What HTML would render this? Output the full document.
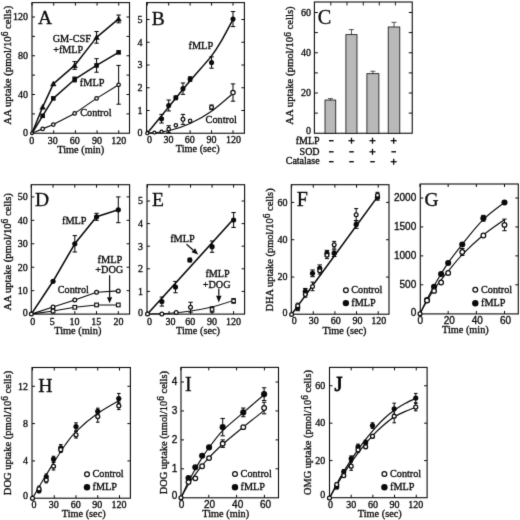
<!DOCTYPE html>
<html><head><meta charset="utf-8"><title>Figure</title>
<style>
html,body{margin:0;padding:0;background:#fff;}
body{width:520px;height:520px;overflow:hidden;font-family:"Liberation Serif",serif;}
svg{display:block;}
text{fill:#0a0a0a;stroke:#0a0a0a;stroke-width:0.32px;}
</style></head><body>
<svg width="520" height="520" viewBox="0 0 520 520">
<defs><filter id="soft" x="0" y="0" width="520" height="520" filterUnits="userSpaceOnUse" color-interpolation-filters="sRGB"><feConvolveMatrix order="3" kernelMatrix="0.011 0.084 0.011 0.084 0.62 0.084 0.011 0.084 0.011" divisor="1" edgeMode="duplicate" preserveAlpha="true"/></filter></defs>
<g filter="url(#soft)">
<rect x="0" y="0" width="520" height="520" fill="#fff"/>
<rect x="32" y="2.6" width="97.5" height="130.65" fill="none" stroke="#0a0a0a" stroke-width="1.1"/>
<line x1="32.00" y1="133.25" x2="32.00" y2="130.25" stroke="#0a0a0a" stroke-width="1.0"/>
<line x1="32.00" y1="2.60" x2="32.00" y2="5.60" stroke="#0a0a0a" stroke-width="1.0"/>
<line x1="53.69" y1="133.25" x2="53.69" y2="130.25" stroke="#0a0a0a" stroke-width="1.0"/>
<line x1="53.69" y1="2.60" x2="53.69" y2="5.60" stroke="#0a0a0a" stroke-width="1.0"/>
<line x1="75.38" y1="133.25" x2="75.38" y2="130.25" stroke="#0a0a0a" stroke-width="1.0"/>
<line x1="75.38" y1="2.60" x2="75.38" y2="5.60" stroke="#0a0a0a" stroke-width="1.0"/>
<line x1="97.06" y1="133.25" x2="97.06" y2="130.25" stroke="#0a0a0a" stroke-width="1.0"/>
<line x1="97.06" y1="2.60" x2="97.06" y2="5.60" stroke="#0a0a0a" stroke-width="1.0"/>
<line x1="118.75" y1="133.25" x2="118.75" y2="130.25" stroke="#0a0a0a" stroke-width="1.0"/>
<line x1="118.75" y1="2.60" x2="118.75" y2="5.60" stroke="#0a0a0a" stroke-width="1.0"/>
<line x1="32.00" y1="113.88" x2="35.00" y2="113.88" stroke="#0a0a0a" stroke-width="1.0"/>
<line x1="129.50" y1="113.88" x2="126.50" y2="113.88" stroke="#0a0a0a" stroke-width="1.0"/>
<line x1="32.00" y1="94.50" x2="35.00" y2="94.50" stroke="#0a0a0a" stroke-width="1.0"/>
<line x1="129.50" y1="94.50" x2="126.50" y2="94.50" stroke="#0a0a0a" stroke-width="1.0"/>
<line x1="32.00" y1="75.12" x2="35.00" y2="75.12" stroke="#0a0a0a" stroke-width="1.0"/>
<line x1="129.50" y1="75.12" x2="126.50" y2="75.12" stroke="#0a0a0a" stroke-width="1.0"/>
<line x1="32.00" y1="55.75" x2="35.00" y2="55.75" stroke="#0a0a0a" stroke-width="1.0"/>
<line x1="129.50" y1="55.75" x2="126.50" y2="55.75" stroke="#0a0a0a" stroke-width="1.0"/>
<line x1="32.00" y1="36.38" x2="35.00" y2="36.38" stroke="#0a0a0a" stroke-width="1.0"/>
<line x1="129.50" y1="36.38" x2="126.50" y2="36.38" stroke="#0a0a0a" stroke-width="1.0"/>
<line x1="32.00" y1="17.00" x2="35.00" y2="17.00" stroke="#0a0a0a" stroke-width="1.0"/>
<line x1="129.50" y1="17.00" x2="126.50" y2="17.00" stroke="#0a0a0a" stroke-width="1.0"/>
<text x="31.80" y="143.60" font-size="10" text-anchor="middle" font-family="Liberation Serif" font-weight="normal" >0</text>
<text x="52.70" y="143.60" font-size="10" text-anchor="middle" font-family="Liberation Serif" font-weight="normal" >30</text>
<text x="74.70" y="143.60" font-size="10" text-anchor="middle" font-family="Liberation Serif" font-weight="normal" >60</text>
<text x="97.00" y="143.60" font-size="10" text-anchor="middle" font-family="Liberation Serif" font-weight="normal" >90</text>
<text x="118.70" y="143.60" font-size="10" text-anchor="middle" font-family="Liberation Serif" font-weight="normal" >120</text>
<text x="28.00" y="135.85" font-size="10" text-anchor="end" font-family="Liberation Serif" font-weight="normal" >0</text>
<text x="28.00" y="97.80" font-size="10" text-anchor="end" font-family="Liberation Serif" font-weight="normal" >40</text>
<text x="28.00" y="59.05" font-size="10" text-anchor="end" font-family="Liberation Serif" font-weight="normal" >80</text>
<text x="28.00" y="20.30" font-size="10" text-anchor="end" font-family="Liberation Serif" font-weight="normal" >120</text>
<text x="80.70" y="152.90" font-size="10.35" text-anchor="middle" font-family="Liberation Serif" font-weight="normal" >Time (min)</text>
<text transform="translate(10.60,65.20) rotate(-90)" font-size="10.75" text-anchor="middle" font-family="Liberation Serif">AA uptake (pmol/10<tspan font-size="9.3" dy="-2.8">6</tspan><tspan dy="2.8"> cells)</tspan></text>
<polyline points="32.00,133.25 42.63,107.09 53.33,83.84 74.65,65.44 96.56,37.34 118.61,18.94" fill="none" stroke="#0a0a0a" stroke-width="1.5" stroke-linejoin="round"/>
<polyline points="32.00,133.25 42.63,115.81 53.33,98.38 74.65,79.48 96.56,65.44 118.61,52.36" fill="none" stroke="#0a0a0a" stroke-width="1.5" stroke-linejoin="round"/>
<polyline points="32.00,133.25 42.63,128.89 53.33,124.53 74.65,113.39 96.56,98.38 118.61,84.81" fill="none" stroke="#0a0a0a" stroke-width="1.15" stroke-linejoin="round"/>
<line x1="74.65" y1="61.56" x2="74.65" y2="69.31" stroke="#0a0a0a" stroke-width="1.05"/>
<line x1="72.45" y1="61.56" x2="76.85" y2="61.56" stroke="#0a0a0a" stroke-width="1.05"/>
<line x1="72.45" y1="69.31" x2="76.85" y2="69.31" stroke="#0a0a0a" stroke-width="1.05"/>
<line x1="96.56" y1="31.53" x2="96.56" y2="43.16" stroke="#0a0a0a" stroke-width="1.05"/>
<line x1="94.36" y1="31.53" x2="98.76" y2="31.53" stroke="#0a0a0a" stroke-width="1.05"/>
<line x1="94.36" y1="43.16" x2="98.76" y2="43.16" stroke="#0a0a0a" stroke-width="1.05"/>
<line x1="118.61" y1="15.06" x2="118.61" y2="22.81" stroke="#0a0a0a" stroke-width="1.05"/>
<line x1="116.41" y1="15.06" x2="120.81" y2="15.06" stroke="#0a0a0a" stroke-width="1.05"/>
<line x1="116.41" y1="22.81" x2="120.81" y2="22.81" stroke="#0a0a0a" stroke-width="1.05"/>
<line x1="96.56" y1="58.66" x2="96.56" y2="72.22" stroke="#0a0a0a" stroke-width="1.05"/>
<line x1="94.36" y1="58.66" x2="98.76" y2="58.66" stroke="#0a0a0a" stroke-width="1.05"/>
<line x1="94.36" y1="72.22" x2="98.76" y2="72.22" stroke="#0a0a0a" stroke-width="1.05"/>
<line x1="74.65" y1="77.06" x2="74.65" y2="81.91" stroke="#0a0a0a" stroke-width="1.05"/>
<line x1="72.45" y1="77.06" x2="76.85" y2="77.06" stroke="#0a0a0a" stroke-width="1.05"/>
<line x1="72.45" y1="81.91" x2="76.85" y2="81.91" stroke="#0a0a0a" stroke-width="1.05"/>
<line x1="118.61" y1="65.44" x2="118.61" y2="104.19" stroke="#0a0a0a" stroke-width="1.05"/>
<line x1="116.41" y1="65.44" x2="120.81" y2="65.44" stroke="#0a0a0a" stroke-width="1.05"/>
<line x1="116.41" y1="104.19" x2="120.81" y2="104.19" stroke="#0a0a0a" stroke-width="1.05"/>
<polygon points="42.63,104.34 39.88,109.29 45.38,109.29" fill="#0a0a0a" stroke="#0a0a0a" stroke-width="0.5"/>
<polygon points="53.33,81.09 50.58,86.04 56.08,86.04" fill="#0a0a0a" stroke="#0a0a0a" stroke-width="0.5"/>
<polygon points="74.65,62.69 71.90,67.64 77.40,67.64" fill="#0a0a0a" stroke="#0a0a0a" stroke-width="0.5"/>
<polygon points="96.56,34.59 93.81,39.54 99.31,39.54" fill="#0a0a0a" stroke="#0a0a0a" stroke-width="0.5"/>
<polygon points="118.61,16.19 115.86,21.14 121.36,21.14" fill="#0a0a0a" stroke="#0a0a0a" stroke-width="0.5"/>
<rect x="40.33" y="113.51" width="4.6" height="4.6" fill="#0a0a0a"/>
<rect x="51.03" y="96.08" width="4.6" height="4.6" fill="#0a0a0a"/>
<rect x="72.35" y="77.18" width="4.6" height="4.6" fill="#0a0a0a"/>
<rect x="94.26" y="63.14" width="4.6" height="4.6" fill="#0a0a0a"/>
<rect x="116.31" y="50.06" width="4.6" height="4.6" fill="#0a0a0a"/>
<circle cx="32.00" cy="133.25" r="1.38" fill="#fff" stroke="#0a0a0a" stroke-width="1.25"/>
<circle cx="42.63" cy="128.89" r="1.73" fill="#fff" stroke="#0a0a0a" stroke-width="1.25"/>
<circle cx="53.33" cy="124.53" r="1.73" fill="#fff" stroke="#0a0a0a" stroke-width="1.25"/>
<circle cx="74.65" cy="113.39" r="1.73" fill="#fff" stroke="#0a0a0a" stroke-width="1.25"/>
<circle cx="96.56" cy="98.38" r="1.73" fill="#fff" stroke="#0a0a0a" stroke-width="1.25"/>
<circle cx="118.61" cy="84.81" r="1.73" fill="#fff" stroke="#0a0a0a" stroke-width="1.25"/>
<text x="38.00" y="23.75" font-size="19.5" text-anchor="start" font-family="Liberation Serif" font-weight="normal" >A</text>
<text x="52.70" y="42.40" font-size="10.3" text-anchor="start" font-family="Liberation Serif" font-weight="normal" >GM-CSF</text>
<text x="53.20" y="53.30" font-size="10.1" text-anchor="start" font-family="Liberation Serif" font-weight="normal" >+fMLP</text>
<text x="79.80" y="85.70" font-size="10.3" text-anchor="start" font-family="Liberation Serif" font-weight="normal" >fMLP</text>
<text x="80.20" y="116.20" font-size="10.25" text-anchor="start" font-family="Liberation Serif" font-weight="normal" >Control</text>
<rect x="146.6" y="2.6" width="97.80000000000001" height="130.65" fill="none" stroke="#0a0a0a" stroke-width="1.1"/>
<line x1="147.25" y1="133.25" x2="147.25" y2="130.25" stroke="#0a0a0a" stroke-width="1.0"/>
<line x1="147.25" y1="2.60" x2="147.25" y2="5.60" stroke="#0a0a0a" stroke-width="1.0"/>
<line x1="168.69" y1="133.25" x2="168.69" y2="130.25" stroke="#0a0a0a" stroke-width="1.0"/>
<line x1="168.69" y1="2.60" x2="168.69" y2="5.60" stroke="#0a0a0a" stroke-width="1.0"/>
<line x1="190.12" y1="133.25" x2="190.12" y2="130.25" stroke="#0a0a0a" stroke-width="1.0"/>
<line x1="190.12" y1="2.60" x2="190.12" y2="5.60" stroke="#0a0a0a" stroke-width="1.0"/>
<line x1="211.56" y1="133.25" x2="211.56" y2="130.25" stroke="#0a0a0a" stroke-width="1.0"/>
<line x1="211.56" y1="2.60" x2="211.56" y2="5.60" stroke="#0a0a0a" stroke-width="1.0"/>
<line x1="233.00" y1="133.25" x2="233.00" y2="130.25" stroke="#0a0a0a" stroke-width="1.0"/>
<line x1="233.00" y1="2.60" x2="233.00" y2="5.60" stroke="#0a0a0a" stroke-width="1.0"/>
<line x1="146.60" y1="110.50" x2="149.60" y2="110.50" stroke="#0a0a0a" stroke-width="1.0"/>
<line x1="244.40" y1="110.50" x2="241.40" y2="110.50" stroke="#0a0a0a" stroke-width="1.0"/>
<line x1="146.60" y1="87.75" x2="149.60" y2="87.75" stroke="#0a0a0a" stroke-width="1.0"/>
<line x1="244.40" y1="87.75" x2="241.40" y2="87.75" stroke="#0a0a0a" stroke-width="1.0"/>
<line x1="146.60" y1="65.00" x2="149.60" y2="65.00" stroke="#0a0a0a" stroke-width="1.0"/>
<line x1="244.40" y1="65.00" x2="241.40" y2="65.00" stroke="#0a0a0a" stroke-width="1.0"/>
<line x1="146.60" y1="42.25" x2="149.60" y2="42.25" stroke="#0a0a0a" stroke-width="1.0"/>
<line x1="244.40" y1="42.25" x2="241.40" y2="42.25" stroke="#0a0a0a" stroke-width="1.0"/>
<line x1="146.60" y1="19.50" x2="149.60" y2="19.50" stroke="#0a0a0a" stroke-width="1.0"/>
<line x1="244.40" y1="19.50" x2="241.40" y2="19.50" stroke="#0a0a0a" stroke-width="1.0"/>
<text x="149.50" y="143.20" font-size="10" text-anchor="middle" font-family="Liberation Serif" font-weight="normal" >0</text>
<text x="168.60" y="143.20" font-size="10" text-anchor="middle" font-family="Liberation Serif" font-weight="normal" >30</text>
<text x="189.70" y="143.20" font-size="10" text-anchor="middle" font-family="Liberation Serif" font-weight="normal" >60</text>
<text x="211.50" y="143.20" font-size="10" text-anchor="middle" font-family="Liberation Serif" font-weight="normal" >90</text>
<text x="233.50" y="143.20" font-size="10" text-anchor="middle" font-family="Liberation Serif" font-weight="normal" >120</text>
<text x="142.50" y="135.85" font-size="10" text-anchor="end" font-family="Liberation Serif" font-weight="normal" >0</text>
<text x="142.50" y="113.80" font-size="10" text-anchor="end" font-family="Liberation Serif" font-weight="normal" >1</text>
<text x="142.50" y="91.05" font-size="10" text-anchor="end" font-family="Liberation Serif" font-weight="normal" >2</text>
<text x="142.50" y="68.30" font-size="10" text-anchor="end" font-family="Liberation Serif" font-weight="normal" >3</text>
<text x="142.50" y="45.55" font-size="10" text-anchor="end" font-family="Liberation Serif" font-weight="normal" >4</text>
<text x="142.50" y="22.80" font-size="10" text-anchor="end" font-family="Liberation Serif" font-weight="normal" >5</text>
<text x="197.70" y="152.40" font-size="10.3" text-anchor="middle" font-family="Liberation Serif" font-weight="normal" >Time (sec)</text>
<path d="M147.25,133.25 C150.82,128.85 161.54,115.62 168.69,106.86 C175.83,98.10 182.98,89.19 190.12,80.70 C197.27,72.20 206.20,62.80 211.56,55.90 C216.92,49.00 218.71,45.36 222.28,39.29 C225.85,33.23 231.21,22.80 233.00,19.50" fill="none" stroke="#0a0a0a" stroke-width="1.5"/>
<path d="M147.25,133.25 C150.82,132.83 161.54,132.38 168.69,130.75 C175.83,129.12 182.98,126.73 190.12,123.47 C197.27,120.21 204.42,116.19 211.56,111.18 C218.71,106.18 229.43,96.39 233.00,93.44" fill="none" stroke="#0a0a0a" stroke-width="1.15"/>
<line x1="161.54" y1="114.37" x2="161.54" y2="123.01" stroke="#0a0a0a" stroke-width="1.05"/>
<line x1="159.34" y1="114.37" x2="163.74" y2="114.37" stroke="#0a0a0a" stroke-width="1.05"/>
<line x1="159.34" y1="123.01" x2="163.74" y2="123.01" stroke="#0a0a0a" stroke-width="1.05"/>
<line x1="168.69" y1="100.03" x2="168.69" y2="110.95" stroke="#0a0a0a" stroke-width="1.05"/>
<line x1="166.49" y1="100.03" x2="170.89" y2="100.03" stroke="#0a0a0a" stroke-width="1.05"/>
<line x1="166.49" y1="110.95" x2="170.89" y2="110.95" stroke="#0a0a0a" stroke-width="1.05"/>
<line x1="175.83" y1="95.94" x2="175.83" y2="99.58" stroke="#0a0a0a" stroke-width="1.05"/>
<line x1="173.63" y1="95.94" x2="178.03" y2="95.94" stroke="#0a0a0a" stroke-width="1.05"/>
<line x1="173.63" y1="99.58" x2="178.03" y2="99.58" stroke="#0a0a0a" stroke-width="1.05"/>
<line x1="182.98" y1="82.97" x2="182.98" y2="94.35" stroke="#0a0a0a" stroke-width="1.05"/>
<line x1="180.78" y1="82.97" x2="185.18" y2="82.97" stroke="#0a0a0a" stroke-width="1.05"/>
<line x1="180.78" y1="94.35" x2="185.18" y2="94.35" stroke="#0a0a0a" stroke-width="1.05"/>
<line x1="190.12" y1="76.83" x2="190.12" y2="81.38" stroke="#0a0a0a" stroke-width="1.05"/>
<line x1="187.93" y1="76.83" x2="192.32" y2="76.83" stroke="#0a0a0a" stroke-width="1.05"/>
<line x1="187.93" y1="81.38" x2="192.32" y2="81.38" stroke="#0a0a0a" stroke-width="1.05"/>
<line x1="211.56" y1="56.81" x2="211.56" y2="68.19" stroke="#0a0a0a" stroke-width="1.05"/>
<line x1="209.36" y1="56.81" x2="213.76" y2="56.81" stroke="#0a0a0a" stroke-width="1.05"/>
<line x1="209.36" y1="68.19" x2="213.76" y2="68.19" stroke="#0a0a0a" stroke-width="1.05"/>
<line x1="233.00" y1="11.54" x2="233.00" y2="26.55" stroke="#0a0a0a" stroke-width="1.05"/>
<line x1="230.80" y1="11.54" x2="235.20" y2="11.54" stroke="#0a0a0a" stroke-width="1.05"/>
<line x1="230.80" y1="26.55" x2="235.20" y2="26.55" stroke="#0a0a0a" stroke-width="1.05"/>
<line x1="168.69" y1="125.74" x2="168.69" y2="132.57" stroke="#0a0a0a" stroke-width="1.05"/>
<line x1="166.49" y1="125.74" x2="170.89" y2="125.74" stroke="#0a0a0a" stroke-width="1.05"/>
<line x1="166.49" y1="132.57" x2="170.89" y2="132.57" stroke="#0a0a0a" stroke-width="1.05"/>
<line x1="182.98" y1="114.37" x2="182.98" y2="124.38" stroke="#0a0a0a" stroke-width="1.05"/>
<line x1="180.78" y1="114.37" x2="185.18" y2="114.37" stroke="#0a0a0a" stroke-width="1.05"/>
<line x1="180.78" y1="124.38" x2="185.18" y2="124.38" stroke="#0a0a0a" stroke-width="1.05"/>
<line x1="211.56" y1="105.04" x2="211.56" y2="109.59" stroke="#0a0a0a" stroke-width="1.05"/>
<line x1="209.36" y1="105.04" x2="213.76" y2="105.04" stroke="#0a0a0a" stroke-width="1.05"/>
<line x1="209.36" y1="109.59" x2="213.76" y2="109.59" stroke="#0a0a0a" stroke-width="1.05"/>
<line x1="233.00" y1="83.88" x2="233.00" y2="101.17" stroke="#0a0a0a" stroke-width="1.05"/>
<line x1="230.80" y1="83.88" x2="235.20" y2="83.88" stroke="#0a0a0a" stroke-width="1.05"/>
<line x1="230.80" y1="101.17" x2="235.20" y2="101.17" stroke="#0a0a0a" stroke-width="1.05"/>
<circle cx="161.54" cy="118.69" r="2.55" fill="#0a0a0a"/>
<circle cx="168.69" cy="105.50" r="2.55" fill="#0a0a0a"/>
<circle cx="175.83" cy="97.76" r="2.55" fill="#0a0a0a"/>
<circle cx="182.98" cy="88.66" r="2.55" fill="#0a0a0a"/>
<circle cx="190.12" cy="79.11" r="2.55" fill="#0a0a0a"/>
<circle cx="211.56" cy="62.50" r="2.55" fill="#0a0a0a"/>
<circle cx="233.00" cy="19.05" r="2.55" fill="#0a0a0a"/>
<circle cx="147.25" cy="133.25" r="1.52" fill="#fff" stroke="#0a0a0a" stroke-width="1.25"/>
<circle cx="154.40" cy="132.57" r="1.52" fill="#fff" stroke="#0a0a0a" stroke-width="1.25"/>
<circle cx="161.54" cy="131.66" r="1.52" fill="#fff" stroke="#0a0a0a" stroke-width="1.25"/>
<circle cx="168.69" cy="129.16" r="1.73" fill="#fff" stroke="#0a0a0a" stroke-width="1.25"/>
<circle cx="175.83" cy="125.29" r="1.73" fill="#fff" stroke="#0a0a0a" stroke-width="1.25"/>
<circle cx="182.98" cy="119.37" r="1.88" fill="#fff" stroke="#0a0a0a" stroke-width="1.25"/>
<circle cx="190.12" cy="120.97" r="1.73" fill="#fff" stroke="#0a0a0a" stroke-width="1.25"/>
<circle cx="211.56" cy="107.31" r="1.88" fill="#fff" stroke="#0a0a0a" stroke-width="1.25"/>
<circle cx="233.00" cy="92.53" r="2.17" fill="#fff" stroke="#0a0a0a" stroke-width="1.25"/>
<text x="151.70" y="24.50" font-size="19.5" text-anchor="start" font-family="Liberation Serif" font-weight="normal" >B</text>
<text x="188.60" y="49.00" font-size="10.25" text-anchor="start" font-family="Liberation Serif" font-weight="normal" >fMLP</text>
<text x="205.60" y="122.80" font-size="10.25" text-anchor="start" font-family="Liberation Serif" font-weight="normal" >Control</text>
<rect x="314.4" y="2.0" width="97.85000000000002" height="131.25" fill="none" stroke="#0a0a0a" stroke-width="1.1"/>
<line x1="314.40" y1="113.12" x2="317.90" y2="113.12" stroke="#0a0a0a" stroke-width="1.0"/>
<line x1="412.25" y1="113.12" x2="408.75" y2="113.12" stroke="#0a0a0a" stroke-width="1.0"/>
<line x1="314.40" y1="93.00" x2="317.90" y2="93.00" stroke="#0a0a0a" stroke-width="1.0"/>
<line x1="412.25" y1="93.00" x2="408.75" y2="93.00" stroke="#0a0a0a" stroke-width="1.0"/>
<line x1="314.40" y1="72.88" x2="317.90" y2="72.88" stroke="#0a0a0a" stroke-width="1.0"/>
<line x1="412.25" y1="72.88" x2="408.75" y2="72.88" stroke="#0a0a0a" stroke-width="1.0"/>
<line x1="314.40" y1="52.75" x2="317.90" y2="52.75" stroke="#0a0a0a" stroke-width="1.0"/>
<line x1="412.25" y1="52.75" x2="408.75" y2="52.75" stroke="#0a0a0a" stroke-width="1.0"/>
<line x1="314.40" y1="32.62" x2="317.90" y2="32.62" stroke="#0a0a0a" stroke-width="1.0"/>
<line x1="412.25" y1="32.62" x2="408.75" y2="32.62" stroke="#0a0a0a" stroke-width="1.0"/>
<line x1="314.40" y1="12.50" x2="317.90" y2="12.50" stroke="#0a0a0a" stroke-width="1.0"/>
<line x1="412.25" y1="12.50" x2="408.75" y2="12.50" stroke="#0a0a0a" stroke-width="1.0"/>
<line x1="330.80" y1="2.00" x2="330.80" y2="5.50" stroke="#0a0a0a" stroke-width="0.9"/>
<line x1="347.00" y1="2.00" x2="347.00" y2="5.50" stroke="#0a0a0a" stroke-width="0.9"/>
<line x1="363.30" y1="2.00" x2="363.30" y2="5.50" stroke="#0a0a0a" stroke-width="0.9"/>
<line x1="379.30" y1="2.00" x2="379.30" y2="5.50" stroke="#0a0a0a" stroke-width="0.9"/>
<line x1="395.40" y1="2.00" x2="395.40" y2="5.50" stroke="#0a0a0a" stroke-width="0.9"/>
<text x="311.00" y="133.55" font-size="10" text-anchor="end" font-family="Liberation Serif" font-weight="normal" >0</text>
<text x="311.00" y="96.30" font-size="10" text-anchor="end" font-family="Liberation Serif" font-weight="normal" >20</text>
<text x="311.00" y="56.05" font-size="10" text-anchor="end" font-family="Liberation Serif" font-weight="normal" >40</text>
<text x="311.00" y="15.80" font-size="10" text-anchor="end" font-family="Liberation Serif" font-weight="normal" >60</text>
<text transform="translate(293.30,65.50) rotate(-90)" font-size="10.7" text-anchor="middle" font-family="Liberation Serif">AA uptake (pmol/10<tspan font-size="9.3" dy="-2.8">6</tspan><tspan dy="2.8"> cells)</tspan></text>
<rect x="325" y="100.04" width="10.75" height="33.21" fill="#b9b9b9" stroke="#0a0a0a" stroke-width="0.8"/>
<line x1="330.38" y1="100.04" x2="330.38" y2="98.63" stroke="#0a0a0a" stroke-width="0.7"/>
<line x1="327.88" y1="98.63" x2="332.88" y2="98.63" stroke="#0a0a0a" stroke-width="0.7"/>
<rect x="345.9" y="34.64" width="11.100000000000023" height="98.61" fill="#b9b9b9" stroke="#0a0a0a" stroke-width="0.8"/>
<line x1="351.45" y1="34.64" x2="351.45" y2="29.61" stroke="#0a0a0a" stroke-width="0.7"/>
<line x1="348.95" y1="29.61" x2="353.95" y2="29.61" stroke="#0a0a0a" stroke-width="0.7"/>
<rect x="366.9" y="73.68" width="12.0" height="59.57" fill="#b9b9b9" stroke="#0a0a0a" stroke-width="0.8"/>
<line x1="372.90" y1="73.68" x2="372.90" y2="71.26" stroke="#0a0a0a" stroke-width="0.7"/>
<line x1="370.40" y1="71.26" x2="375.40" y2="71.26" stroke="#0a0a0a" stroke-width="0.7"/>
<rect x="388.2" y="26.99" width="11.600000000000023" height="106.26" fill="#b9b9b9" stroke="#0a0a0a" stroke-width="0.8"/>
<line x1="394.00" y1="26.99" x2="394.00" y2="22.36" stroke="#0a0a0a" stroke-width="0.7"/>
<line x1="391.50" y1="22.36" x2="396.50" y2="22.36" stroke="#0a0a0a" stroke-width="0.7"/>
<text x="317.80" y="24.00" font-size="20.3" text-anchor="start" font-family="Liberation Serif" font-weight="normal" >C</text>
<text x="319.60" y="143.70" font-size="10" text-anchor="end" font-family="Liberation Serif" font-weight="normal" >fMLP</text>
<text x="319.60" y="154.50" font-size="10" text-anchor="end" font-family="Liberation Serif" font-weight="normal" >SOD</text>
<text x="319.60" y="164.40" font-size="10" text-anchor="end" font-family="Liberation Serif" font-weight="normal" >Catalase</text>
<line x1="329.00" y1="140.70" x2="333.60" y2="140.70" stroke="#0a0a0a" stroke-width="1.4"/>
<line x1="348.50" y1="140.70" x2="354.50" y2="140.70" stroke="#0a0a0a" stroke-width="1.3"/>
<line x1="351.50" y1="137.70" x2="351.50" y2="143.70" stroke="#0a0a0a" stroke-width="1.3"/>
<line x1="369.50" y1="140.70" x2="375.50" y2="140.70" stroke="#0a0a0a" stroke-width="1.3"/>
<line x1="372.50" y1="137.70" x2="372.50" y2="143.70" stroke="#0a0a0a" stroke-width="1.3"/>
<line x1="390.70" y1="140.70" x2="396.70" y2="140.70" stroke="#0a0a0a" stroke-width="1.3"/>
<line x1="393.70" y1="137.70" x2="393.70" y2="143.70" stroke="#0a0a0a" stroke-width="1.3"/>
<line x1="329.00" y1="151.80" x2="333.60" y2="151.80" stroke="#0a0a0a" stroke-width="1.4"/>
<line x1="349.20" y1="151.80" x2="353.80" y2="151.80" stroke="#0a0a0a" stroke-width="1.4"/>
<line x1="369.50" y1="151.80" x2="375.50" y2="151.80" stroke="#0a0a0a" stroke-width="1.3"/>
<line x1="372.50" y1="148.80" x2="372.50" y2="154.80" stroke="#0a0a0a" stroke-width="1.3"/>
<line x1="391.40" y1="151.80" x2="396.00" y2="151.80" stroke="#0a0a0a" stroke-width="1.4"/>
<line x1="329.00" y1="161.70" x2="333.60" y2="161.70" stroke="#0a0a0a" stroke-width="1.4"/>
<line x1="349.20" y1="161.70" x2="353.80" y2="161.70" stroke="#0a0a0a" stroke-width="1.4"/>
<line x1="370.20" y1="161.70" x2="374.80" y2="161.70" stroke="#0a0a0a" stroke-width="1.4"/>
<line x1="390.70" y1="161.70" x2="396.70" y2="161.70" stroke="#0a0a0a" stroke-width="1.3"/>
<line x1="393.70" y1="158.70" x2="393.70" y2="164.70" stroke="#0a0a0a" stroke-width="1.3"/>
<rect x="31.3" y="184.7" width="98.3" height="129.40000000000003" fill="none" stroke="#0a0a0a" stroke-width="1.1"/>
<line x1="31.30" y1="314.10" x2="31.30" y2="311.10" stroke="#0a0a0a" stroke-width="1.0"/>
<line x1="31.30" y1="184.70" x2="31.30" y2="187.70" stroke="#0a0a0a" stroke-width="1.0"/>
<line x1="53.05" y1="314.10" x2="53.05" y2="311.10" stroke="#0a0a0a" stroke-width="1.0"/>
<line x1="53.05" y1="184.70" x2="53.05" y2="187.70" stroke="#0a0a0a" stroke-width="1.0"/>
<line x1="74.80" y1="314.10" x2="74.80" y2="311.10" stroke="#0a0a0a" stroke-width="1.0"/>
<line x1="74.80" y1="184.70" x2="74.80" y2="187.70" stroke="#0a0a0a" stroke-width="1.0"/>
<line x1="96.55" y1="314.10" x2="96.55" y2="311.10" stroke="#0a0a0a" stroke-width="1.0"/>
<line x1="96.55" y1="184.70" x2="96.55" y2="187.70" stroke="#0a0a0a" stroke-width="1.0"/>
<line x1="118.30" y1="314.10" x2="118.30" y2="311.10" stroke="#0a0a0a" stroke-width="1.0"/>
<line x1="118.30" y1="184.70" x2="118.30" y2="187.70" stroke="#0a0a0a" stroke-width="1.0"/>
<line x1="31.30" y1="290.66" x2="34.30" y2="290.66" stroke="#0a0a0a" stroke-width="1.0"/>
<line x1="129.60" y1="290.66" x2="126.60" y2="290.66" stroke="#0a0a0a" stroke-width="1.0"/>
<line x1="31.30" y1="267.22" x2="34.30" y2="267.22" stroke="#0a0a0a" stroke-width="1.0"/>
<line x1="129.60" y1="267.22" x2="126.60" y2="267.22" stroke="#0a0a0a" stroke-width="1.0"/>
<line x1="31.30" y1="243.78" x2="34.30" y2="243.78" stroke="#0a0a0a" stroke-width="1.0"/>
<line x1="129.60" y1="243.78" x2="126.60" y2="243.78" stroke="#0a0a0a" stroke-width="1.0"/>
<line x1="31.30" y1="220.34" x2="34.30" y2="220.34" stroke="#0a0a0a" stroke-width="1.0"/>
<line x1="129.60" y1="220.34" x2="126.60" y2="220.34" stroke="#0a0a0a" stroke-width="1.0"/>
<line x1="31.30" y1="196.90" x2="34.30" y2="196.90" stroke="#0a0a0a" stroke-width="1.0"/>
<line x1="129.60" y1="196.90" x2="126.60" y2="196.90" stroke="#0a0a0a" stroke-width="1.0"/>
<text x="32.70" y="324.80" font-size="10" text-anchor="middle" font-family="Liberation Serif" font-weight="normal" >0</text>
<text x="52.30" y="324.80" font-size="10" text-anchor="middle" font-family="Liberation Serif" font-weight="normal" >5</text>
<text x="74.60" y="324.80" font-size="10" text-anchor="middle" font-family="Liberation Serif" font-weight="normal" >10</text>
<text x="96.20" y="324.80" font-size="10" text-anchor="middle" font-family="Liberation Serif" font-weight="normal" >15</text>
<text x="118.40" y="324.80" font-size="10" text-anchor="middle" font-family="Liberation Serif" font-weight="normal" >20</text>
<text x="27.70" y="316.10" font-size="10" text-anchor="end" font-family="Liberation Serif" font-weight="normal" >0</text>
<text x="27.70" y="293.96" font-size="10" text-anchor="end" font-family="Liberation Serif" font-weight="normal" >10</text>
<text x="27.70" y="270.52" font-size="10" text-anchor="end" font-family="Liberation Serif" font-weight="normal" >20</text>
<text x="27.70" y="247.08" font-size="10" text-anchor="end" font-family="Liberation Serif" font-weight="normal" >30</text>
<text x="27.70" y="223.64" font-size="10" text-anchor="end" font-family="Liberation Serif" font-weight="normal" >40</text>
<text x="27.70" y="200.20" font-size="10" text-anchor="end" font-family="Liberation Serif" font-weight="normal" >50</text>
<text x="77.80" y="334.30" font-size="10.4" text-anchor="middle" font-family="Liberation Serif" font-weight="normal" >Time (min)</text>
<text transform="translate(10.60,251.80) rotate(-90)" font-size="10.6" text-anchor="middle" font-family="Liberation Serif">AA uptake (pmol/10<tspan font-size="9.3" dy="-2.8">6</tspan><tspan dy="2.8"> cells)</tspan></text>
<polyline points="31.30,314.10 53.05,281.28 74.80,243.78 96.55,216.82 118.30,209.79" fill="none" stroke="#0a0a0a" stroke-width="1.6" stroke-linejoin="round"/>
<polyline points="31.30,314.10 53.05,307.07 74.80,300.04 96.55,292.30 118.30,290.89" fill="none" stroke="#0a0a0a" stroke-width="1.15" stroke-linejoin="round"/>
<polyline points="31.30,314.10 53.05,311.05 74.80,307.30 96.55,304.96 118.30,304.96" fill="none" stroke="#0a0a0a" stroke-width="1.15" stroke-linejoin="round"/>
<line x1="74.80" y1="235.58" x2="74.80" y2="251.98" stroke="#0a0a0a" stroke-width="1.05"/>
<line x1="72.60" y1="235.58" x2="77.00" y2="235.58" stroke="#0a0a0a" stroke-width="1.05"/>
<line x1="72.60" y1="251.98" x2="77.00" y2="251.98" stroke="#0a0a0a" stroke-width="1.05"/>
<line x1="96.55" y1="213.31" x2="96.55" y2="220.34" stroke="#0a0a0a" stroke-width="1.05"/>
<line x1="94.35" y1="213.31" x2="98.75" y2="213.31" stroke="#0a0a0a" stroke-width="1.05"/>
<line x1="94.35" y1="220.34" x2="98.75" y2="220.34" stroke="#0a0a0a" stroke-width="1.05"/>
<line x1="118.30" y1="196.90" x2="118.30" y2="222.68" stroke="#0a0a0a" stroke-width="1.05"/>
<line x1="116.10" y1="196.90" x2="120.50" y2="196.90" stroke="#0a0a0a" stroke-width="1.05"/>
<line x1="116.10" y1="222.68" x2="120.50" y2="222.68" stroke="#0a0a0a" stroke-width="1.05"/>
<circle cx="53.05" cy="281.28" r="2.6" fill="#0a0a0a"/>
<circle cx="74.80" cy="243.78" r="2.6" fill="#0a0a0a"/>
<circle cx="96.55" cy="216.82" r="2.6" fill="#0a0a0a"/>
<circle cx="118.30" cy="209.79" r="2.6" fill="#0a0a0a"/>
<circle cx="31.30" cy="314.10" r="1.88" fill="#fff" stroke="#0a0a0a" stroke-width="1.25"/>
<circle cx="53.05" cy="307.07" r="1.88" fill="#fff" stroke="#0a0a0a" stroke-width="1.25"/>
<circle cx="74.80" cy="300.04" r="1.88" fill="#fff" stroke="#0a0a0a" stroke-width="1.25"/>
<circle cx="96.55" cy="292.30" r="1.88" fill="#fff" stroke="#0a0a0a" stroke-width="1.25"/>
<circle cx="118.30" cy="290.89" r="1.88" fill="#fff" stroke="#0a0a0a" stroke-width="1.25"/>
<rect x="51.22" y="309.23" width="3.65" height="3.65" fill="#fff" stroke="#0a0a0a" stroke-width="1.15"/>
<rect x="72.97" y="305.48" width="3.65" height="3.65" fill="#fff" stroke="#0a0a0a" stroke-width="1.15"/>
<rect x="94.72" y="303.13" width="3.65" height="3.65" fill="#fff" stroke="#0a0a0a" stroke-width="1.15"/>
<rect x="116.47" y="303.13" width="3.65" height="3.65" fill="#fff" stroke="#0a0a0a" stroke-width="1.15"/>
<text x="35.00" y="206.25" font-size="19.5" text-anchor="start" font-family="Liberation Serif" font-weight="normal" >D</text>
<text x="62.00" y="224.00" font-size="10.3" text-anchor="start" font-family="Liberation Serif" font-weight="normal" >fMLP</text>
<text x="97.50" y="262.50" font-size="10.4" text-anchor="start" font-family="Liberation Serif" font-weight="normal" >fMLP</text>
<text x="95.20" y="273.30" font-size="10.3" text-anchor="start" font-family="Liberation Serif" font-weight="normal" >+DOG</text>
<text x="57.80" y="293.30" font-size="10.2" text-anchor="start" font-family="Liberation Serif" font-weight="normal" >Control</text>
<line x1="109.60" y1="275.30" x2="109.60" y2="297.30" stroke="#0a0a0a" stroke-width="1.2"/>
<polygon points="109.60,303.30 107.00,297.30 112.20,297.30" fill="#0a0a0a"/>
<rect x="147.0" y="184.7" width="97.6" height="129.40000000000003" fill="none" stroke="#0a0a0a" stroke-width="1.1"/>
<line x1="147.50" y1="314.10" x2="147.50" y2="311.10" stroke="#0a0a0a" stroke-width="1.0"/>
<line x1="147.50" y1="184.70" x2="147.50" y2="187.70" stroke="#0a0a0a" stroke-width="1.0"/>
<line x1="169.03" y1="314.10" x2="169.03" y2="311.10" stroke="#0a0a0a" stroke-width="1.0"/>
<line x1="169.03" y1="184.70" x2="169.03" y2="187.70" stroke="#0a0a0a" stroke-width="1.0"/>
<line x1="190.55" y1="314.10" x2="190.55" y2="311.10" stroke="#0a0a0a" stroke-width="1.0"/>
<line x1="190.55" y1="184.70" x2="190.55" y2="187.70" stroke="#0a0a0a" stroke-width="1.0"/>
<line x1="212.07" y1="314.10" x2="212.07" y2="311.10" stroke="#0a0a0a" stroke-width="1.0"/>
<line x1="212.07" y1="184.70" x2="212.07" y2="187.70" stroke="#0a0a0a" stroke-width="1.0"/>
<line x1="233.60" y1="314.10" x2="233.60" y2="311.10" stroke="#0a0a0a" stroke-width="1.0"/>
<line x1="233.60" y1="184.70" x2="233.60" y2="187.70" stroke="#0a0a0a" stroke-width="1.0"/>
<line x1="147.00" y1="291.40" x2="150.00" y2="291.40" stroke="#0a0a0a" stroke-width="1.0"/>
<line x1="244.60" y1="291.40" x2="241.60" y2="291.40" stroke="#0a0a0a" stroke-width="1.0"/>
<line x1="147.00" y1="268.80" x2="150.00" y2="268.80" stroke="#0a0a0a" stroke-width="1.0"/>
<line x1="244.60" y1="268.80" x2="241.60" y2="268.80" stroke="#0a0a0a" stroke-width="1.0"/>
<line x1="147.00" y1="246.20" x2="150.00" y2="246.20" stroke="#0a0a0a" stroke-width="1.0"/>
<line x1="244.60" y1="246.20" x2="241.60" y2="246.20" stroke="#0a0a0a" stroke-width="1.0"/>
<line x1="147.00" y1="223.60" x2="150.00" y2="223.60" stroke="#0a0a0a" stroke-width="1.0"/>
<line x1="244.60" y1="223.60" x2="241.60" y2="223.60" stroke="#0a0a0a" stroke-width="1.0"/>
<line x1="147.00" y1="201.00" x2="150.00" y2="201.00" stroke="#0a0a0a" stroke-width="1.0"/>
<line x1="244.60" y1="201.00" x2="241.60" y2="201.00" stroke="#0a0a0a" stroke-width="1.0"/>
<text x="149.50" y="324.50" font-size="10" text-anchor="middle" font-family="Liberation Serif" font-weight="normal" >0</text>
<text x="170.60" y="324.50" font-size="10" text-anchor="middle" font-family="Liberation Serif" font-weight="normal" >30</text>
<text x="190.30" y="324.50" font-size="10" text-anchor="middle" font-family="Liberation Serif" font-weight="normal" >60</text>
<text x="211.90" y="324.50" font-size="10" text-anchor="middle" font-family="Liberation Serif" font-weight="normal" >90</text>
<text x="233.50" y="324.50" font-size="10" text-anchor="middle" font-family="Liberation Serif" font-weight="normal" >120</text>
<text x="143.10" y="315.50" font-size="10" text-anchor="end" font-family="Liberation Serif" font-weight="normal" >0</text>
<text x="143.10" y="294.70" font-size="10" text-anchor="end" font-family="Liberation Serif" font-weight="normal" >1</text>
<text x="143.10" y="272.10" font-size="10" text-anchor="end" font-family="Liberation Serif" font-weight="normal" >2</text>
<text x="143.10" y="249.50" font-size="10" text-anchor="end" font-family="Liberation Serif" font-weight="normal" >3</text>
<text x="143.10" y="226.90" font-size="10" text-anchor="end" font-family="Liberation Serif" font-weight="normal" >4</text>
<text x="143.10" y="204.30" font-size="10" text-anchor="end" font-family="Liberation Serif" font-weight="normal" >5</text>
<text x="198.00" y="333.60" font-size="10.3" text-anchor="middle" font-family="Liberation Serif" font-weight="normal" >Time (sec)</text>
<polyline points="147.50,314.00 233.60,219.08" fill="none" stroke="#0a0a0a" stroke-width="1.6" stroke-linejoin="round"/>
<path d="M147.50,314.00 C151.09,313.89 161.85,313.81 169.03,313.32 C176.20,312.83 183.38,312.12 190.55,311.06 C197.73,310.01 204.90,308.76 212.07,306.99 C219.25,305.22 230.01,301.53 233.60,300.44" fill="none" stroke="#0a0a0a" stroke-width="1.0"/>
<line x1="161.85" y1="297.05" x2="161.85" y2="306.09" stroke="#0a0a0a" stroke-width="1.05"/>
<line x1="159.65" y1="297.05" x2="164.05" y2="297.05" stroke="#0a0a0a" stroke-width="1.05"/>
<line x1="159.65" y1="306.09" x2="164.05" y2="306.09" stroke="#0a0a0a" stroke-width="1.05"/>
<line x1="175.48" y1="281.46" x2="175.48" y2="292.76" stroke="#0a0a0a" stroke-width="1.05"/>
<line x1="173.28" y1="281.46" x2="177.68" y2="281.46" stroke="#0a0a0a" stroke-width="1.05"/>
<line x1="173.28" y1="292.76" x2="177.68" y2="292.76" stroke="#0a0a0a" stroke-width="1.05"/>
<line x1="189.83" y1="258.18" x2="189.83" y2="261.79" stroke="#0a0a0a" stroke-width="1.05"/>
<line x1="187.63" y1="258.18" x2="192.03" y2="258.18" stroke="#0a0a0a" stroke-width="1.05"/>
<line x1="187.63" y1="261.79" x2="192.03" y2="261.79" stroke="#0a0a0a" stroke-width="1.05"/>
<line x1="212.07" y1="241.00" x2="212.07" y2="252.30" stroke="#0a0a0a" stroke-width="1.05"/>
<line x1="209.88" y1="241.00" x2="214.27" y2="241.00" stroke="#0a0a0a" stroke-width="1.05"/>
<line x1="209.88" y1="252.30" x2="214.27" y2="252.30" stroke="#0a0a0a" stroke-width="1.05"/>
<line x1="233.60" y1="212.53" x2="233.60" y2="227.44" stroke="#0a0a0a" stroke-width="1.05"/>
<line x1="231.40" y1="212.53" x2="235.80" y2="212.53" stroke="#0a0a0a" stroke-width="1.05"/>
<line x1="231.40" y1="227.44" x2="235.80" y2="227.44" stroke="#0a0a0a" stroke-width="1.05"/>
<line x1="190.55" y1="302.25" x2="190.55" y2="312.19" stroke="#0a0a0a" stroke-width="1.05"/>
<line x1="188.35" y1="302.25" x2="192.75" y2="302.25" stroke="#0a0a0a" stroke-width="1.05"/>
<line x1="188.35" y1="312.19" x2="192.75" y2="312.19" stroke="#0a0a0a" stroke-width="1.05"/>
<line x1="212.07" y1="306.77" x2="212.07" y2="312.19" stroke="#0a0a0a" stroke-width="1.05"/>
<line x1="209.88" y1="306.77" x2="214.27" y2="306.77" stroke="#0a0a0a" stroke-width="1.05"/>
<line x1="209.88" y1="312.19" x2="214.27" y2="312.19" stroke="#0a0a0a" stroke-width="1.05"/>
<line x1="233.60" y1="298.63" x2="233.60" y2="303.15" stroke="#0a0a0a" stroke-width="1.05"/>
<line x1="231.40" y1="298.63" x2="235.80" y2="298.63" stroke="#0a0a0a" stroke-width="1.05"/>
<line x1="231.40" y1="303.15" x2="235.80" y2="303.15" stroke="#0a0a0a" stroke-width="1.05"/>
<circle cx="161.85" cy="301.57" r="2.6" fill="#0a0a0a"/>
<circle cx="175.48" cy="287.11" r="2.6" fill="#0a0a0a"/>
<circle cx="189.83" cy="259.99" r="2.6" fill="#0a0a0a"/>
<circle cx="212.07" cy="246.65" r="2.6" fill="#0a0a0a"/>
<circle cx="233.60" cy="219.98" r="2.6" fill="#0a0a0a"/>
<circle cx="147.50" cy="314.00" r="1.88" fill="#fff" stroke="#0a0a0a" stroke-width="1.25"/>
<circle cx="161.85" cy="314.00" r="1.88" fill="#fff" stroke="#0a0a0a" stroke-width="1.25"/>
<circle cx="176.20" cy="312.42" r="1.88" fill="#fff" stroke="#0a0a0a" stroke-width="1.25"/>
<circle cx="190.55" cy="307.22" r="1.88" fill="#fff" stroke="#0a0a0a" stroke-width="1.25"/>
<rect x="210.35" y="307.75" width="3.45" height="3.45" fill="#fff" stroke="#0a0a0a" stroke-width="1.15"/>
<rect x="231.88" y="299.17" width="3.45" height="3.45" fill="#fff" stroke="#0a0a0a" stroke-width="1.15"/>
<text x="152.00" y="206.25" font-size="19.5" text-anchor="start" font-family="Liberation Serif" font-weight="normal" >E</text>
<text x="170.20" y="242.40" font-size="10.3" text-anchor="start" font-family="Liberation Serif" font-weight="normal" >fMLP</text>
<text x="205.40" y="276.70" font-size="10.2" text-anchor="start" font-family="Liberation Serif" font-weight="normal" >fMLP</text>
<text x="202.70" y="287.70" font-size="10.2" text-anchor="start" font-family="Liberation Serif" font-weight="normal" >+DOG</text>
<line x1="186.50" y1="244.20" x2="193.32" y2="250.20" stroke="#0a0a0a" stroke-width="1.2"/>
<polygon points="198.20,254.50 191.54,252.23 195.11,248.18" fill="#0a0a0a"/>
<line x1="218.80" y1="288.50" x2="218.80" y2="295.70" stroke="#0a0a0a" stroke-width="1.2"/>
<polygon points="218.80,302.50 216.10,295.70 221.50,295.70" fill="#0a0a0a"/>
<rect x="291.3" y="184.7" width="97.69999999999999" height="129.5" fill="none" stroke="#0a0a0a" stroke-width="1.1"/>
<line x1="291.60" y1="314.20" x2="291.60" y2="311.20" stroke="#0a0a0a" stroke-width="1.0"/>
<line x1="291.60" y1="184.70" x2="291.60" y2="187.70" stroke="#0a0a0a" stroke-width="1.0"/>
<line x1="313.25" y1="314.20" x2="313.25" y2="311.20" stroke="#0a0a0a" stroke-width="1.0"/>
<line x1="313.25" y1="184.70" x2="313.25" y2="187.70" stroke="#0a0a0a" stroke-width="1.0"/>
<line x1="334.90" y1="314.20" x2="334.90" y2="311.20" stroke="#0a0a0a" stroke-width="1.0"/>
<line x1="334.90" y1="184.70" x2="334.90" y2="187.70" stroke="#0a0a0a" stroke-width="1.0"/>
<line x1="356.55" y1="314.20" x2="356.55" y2="311.20" stroke="#0a0a0a" stroke-width="1.0"/>
<line x1="356.55" y1="184.70" x2="356.55" y2="187.70" stroke="#0a0a0a" stroke-width="1.0"/>
<line x1="378.20" y1="314.20" x2="378.20" y2="311.20" stroke="#0a0a0a" stroke-width="1.0"/>
<line x1="378.20" y1="184.70" x2="378.20" y2="187.70" stroke="#0a0a0a" stroke-width="1.0"/>
<line x1="291.30" y1="277.07" x2="294.30" y2="277.07" stroke="#0a0a0a" stroke-width="1.0"/>
<line x1="389.00" y1="277.07" x2="386.00" y2="277.07" stroke="#0a0a0a" stroke-width="1.0"/>
<line x1="291.30" y1="239.73" x2="294.30" y2="239.73" stroke="#0a0a0a" stroke-width="1.0"/>
<line x1="389.00" y1="239.73" x2="386.00" y2="239.73" stroke="#0a0a0a" stroke-width="1.0"/>
<line x1="291.30" y1="202.40" x2="294.30" y2="202.40" stroke="#0a0a0a" stroke-width="1.0"/>
<line x1="389.00" y1="202.40" x2="386.00" y2="202.40" stroke="#0a0a0a" stroke-width="1.0"/>
<text x="294.20" y="324.20" font-size="10" text-anchor="middle" font-family="Liberation Serif" font-weight="normal" >0</text>
<text x="313.70" y="324.20" font-size="10" text-anchor="middle" font-family="Liberation Serif" font-weight="normal" >30</text>
<text x="335.80" y="324.20" font-size="10" text-anchor="middle" font-family="Liberation Serif" font-weight="normal" >60</text>
<text x="357.40" y="324.20" font-size="10" text-anchor="middle" font-family="Liberation Serif" font-weight="normal" >90</text>
<text x="378.80" y="324.20" font-size="10" text-anchor="middle" font-family="Liberation Serif" font-weight="normal" >120</text>
<text x="287.50" y="315.90" font-size="10" text-anchor="end" font-family="Liberation Serif" font-weight="normal" >0</text>
<text x="287.50" y="280.37" font-size="10" text-anchor="end" font-family="Liberation Serif" font-weight="normal" >20</text>
<text x="287.50" y="243.03" font-size="10" text-anchor="end" font-family="Liberation Serif" font-weight="normal" >40</text>
<text x="287.50" y="205.70" font-size="10" text-anchor="end" font-family="Liberation Serif" font-weight="normal" >60</text>
<text x="344.50" y="333.60" font-size="10.3" text-anchor="middle" font-family="Liberation Serif" font-weight="normal" >Time (sec)</text>
<text transform="translate(272.50,250.00) rotate(-90)" font-size="10.45" text-anchor="middle" font-family="Liberation Serif">DHA uptake (pmol/10<tspan font-size="9.3" dy="-2.8">6</tspan><tspan dy="2.8"> cells)</tspan></text>
<polyline points="291.60,314.40 378.20,195.87" fill="none" stroke="#0a0a0a" stroke-width="1.6" stroke-linejoin="round"/>
<line x1="297.73" y1="304.69" x2="297.73" y2="310.67" stroke="#0a0a0a" stroke-width="1.05"/>
<line x1="295.43" y1="304.69" x2="300.03" y2="304.69" stroke="#0a0a0a" stroke-width="1.05"/>
<line x1="295.43" y1="310.67" x2="300.03" y2="310.67" stroke="#0a0a0a" stroke-width="1.05"/>
<line x1="305.31" y1="288.45" x2="305.31" y2="294.43" stroke="#0a0a0a" stroke-width="1.05"/>
<line x1="303.01" y1="288.45" x2="307.61" y2="288.45" stroke="#0a0a0a" stroke-width="1.05"/>
<line x1="303.01" y1="294.43" x2="307.61" y2="294.43" stroke="#0a0a0a" stroke-width="1.05"/>
<line x1="312.53" y1="269.97" x2="312.53" y2="276.69" stroke="#0a0a0a" stroke-width="1.05"/>
<line x1="310.23" y1="269.97" x2="314.83" y2="269.97" stroke="#0a0a0a" stroke-width="1.05"/>
<line x1="310.23" y1="276.69" x2="314.83" y2="276.69" stroke="#0a0a0a" stroke-width="1.05"/>
<line x1="319.75" y1="264.93" x2="319.75" y2="271.65" stroke="#0a0a0a" stroke-width="1.05"/>
<line x1="317.44" y1="264.93" x2="322.05" y2="264.93" stroke="#0a0a0a" stroke-width="1.05"/>
<line x1="317.44" y1="271.65" x2="322.05" y2="271.65" stroke="#0a0a0a" stroke-width="1.05"/>
<line x1="326.96" y1="250.37" x2="326.96" y2="256.35" stroke="#0a0a0a" stroke-width="1.05"/>
<line x1="324.66" y1="250.37" x2="329.26" y2="250.37" stroke="#0a0a0a" stroke-width="1.05"/>
<line x1="324.66" y1="256.35" x2="329.26" y2="256.35" stroke="#0a0a0a" stroke-width="1.05"/>
<line x1="334.18" y1="249.81" x2="334.18" y2="256.53" stroke="#0a0a0a" stroke-width="1.05"/>
<line x1="331.88" y1="249.81" x2="336.48" y2="249.81" stroke="#0a0a0a" stroke-width="1.05"/>
<line x1="331.88" y1="256.53" x2="336.48" y2="256.53" stroke="#0a0a0a" stroke-width="1.05"/>
<line x1="356.19" y1="220.51" x2="356.19" y2="228.35" stroke="#0a0a0a" stroke-width="1.05"/>
<line x1="353.89" y1="220.51" x2="358.49" y2="220.51" stroke="#0a0a0a" stroke-width="1.05"/>
<line x1="353.89" y1="228.35" x2="358.49" y2="228.35" stroke="#0a0a0a" stroke-width="1.05"/>
<line x1="377.48" y1="194.19" x2="377.48" y2="200.16" stroke="#0a0a0a" stroke-width="1.05"/>
<line x1="375.18" y1="194.19" x2="379.78" y2="194.19" stroke="#0a0a0a" stroke-width="1.05"/>
<line x1="375.18" y1="200.16" x2="379.78" y2="200.16" stroke="#0a0a0a" stroke-width="1.05"/>
<line x1="297.73" y1="303.20" x2="297.73" y2="308.05" stroke="#0a0a0a" stroke-width="1.05"/>
<line x1="295.73" y1="303.20" x2="299.73" y2="303.20" stroke="#0a0a0a" stroke-width="1.05"/>
<line x1="295.73" y1="308.05" x2="299.73" y2="308.05" stroke="#0a0a0a" stroke-width="1.05"/>
<line x1="305.31" y1="291.63" x2="305.31" y2="297.23" stroke="#0a0a0a" stroke-width="1.05"/>
<line x1="303.31" y1="291.63" x2="307.31" y2="291.63" stroke="#0a0a0a" stroke-width="1.05"/>
<line x1="303.31" y1="297.23" x2="307.31" y2="297.23" stroke="#0a0a0a" stroke-width="1.05"/>
<line x1="312.53" y1="282.11" x2="312.53" y2="290.69" stroke="#0a0a0a" stroke-width="1.05"/>
<line x1="310.53" y1="282.11" x2="314.53" y2="282.11" stroke="#0a0a0a" stroke-width="1.05"/>
<line x1="310.53" y1="290.69" x2="314.53" y2="290.69" stroke="#0a0a0a" stroke-width="1.05"/>
<line x1="319.75" y1="267.36" x2="319.75" y2="274.08" stroke="#0a0a0a" stroke-width="1.05"/>
<line x1="317.75" y1="267.36" x2="321.75" y2="267.36" stroke="#0a0a0a" stroke-width="1.05"/>
<line x1="317.75" y1="274.08" x2="321.75" y2="274.08" stroke="#0a0a0a" stroke-width="1.05"/>
<line x1="326.96" y1="251.87" x2="326.96" y2="258.59" stroke="#0a0a0a" stroke-width="1.05"/>
<line x1="324.96" y1="251.87" x2="328.96" y2="251.87" stroke="#0a0a0a" stroke-width="1.05"/>
<line x1="324.96" y1="258.59" x2="328.96" y2="258.59" stroke="#0a0a0a" stroke-width="1.05"/>
<line x1="334.18" y1="241.41" x2="334.18" y2="248.13" stroke="#0a0a0a" stroke-width="1.05"/>
<line x1="332.18" y1="241.41" x2="336.18" y2="241.41" stroke="#0a0a0a" stroke-width="1.05"/>
<line x1="332.18" y1="248.13" x2="336.18" y2="248.13" stroke="#0a0a0a" stroke-width="1.05"/>
<line x1="356.19" y1="208.56" x2="356.19" y2="220.88" stroke="#0a0a0a" stroke-width="1.05"/>
<line x1="354.19" y1="208.56" x2="358.19" y2="208.56" stroke="#0a0a0a" stroke-width="1.05"/>
<line x1="354.19" y1="220.88" x2="358.19" y2="220.88" stroke="#0a0a0a" stroke-width="1.05"/>
<line x1="377.48" y1="192.32" x2="377.48" y2="198.29" stroke="#0a0a0a" stroke-width="1.05"/>
<line x1="375.48" y1="192.32" x2="379.48" y2="192.32" stroke="#0a0a0a" stroke-width="1.05"/>
<line x1="375.48" y1="198.29" x2="379.48" y2="198.29" stroke="#0a0a0a" stroke-width="1.05"/>
<circle cx="297.73" cy="307.68" r="2.6" fill="#0a0a0a"/>
<circle cx="305.31" cy="291.44" r="2.6" fill="#0a0a0a"/>
<circle cx="312.53" cy="273.33" r="2.6" fill="#0a0a0a"/>
<circle cx="319.75" cy="268.29" r="2.6" fill="#0a0a0a"/>
<circle cx="326.96" cy="253.36" r="2.6" fill="#0a0a0a"/>
<circle cx="334.18" cy="253.17" r="2.6" fill="#0a0a0a"/>
<circle cx="356.19" cy="224.43" r="2.6" fill="#0a0a0a"/>
<circle cx="377.48" cy="197.17" r="2.6" fill="#0a0a0a"/>
<circle cx="291.60" cy="314.40" r="1.88" fill="#fff" stroke="#0a0a0a" stroke-width="1.25"/>
<circle cx="297.73" cy="305.63" r="1.88" fill="#fff" stroke="#0a0a0a" stroke-width="1.25"/>
<circle cx="305.31" cy="294.43" r="1.88" fill="#fff" stroke="#0a0a0a" stroke-width="1.25"/>
<circle cx="312.53" cy="286.40" r="1.88" fill="#fff" stroke="#0a0a0a" stroke-width="1.25"/>
<circle cx="319.75" cy="270.72" r="1.88" fill="#fff" stroke="#0a0a0a" stroke-width="1.25"/>
<circle cx="326.96" cy="255.23" r="1.88" fill="#fff" stroke="#0a0a0a" stroke-width="1.25"/>
<circle cx="334.18" cy="244.77" r="1.88" fill="#fff" stroke="#0a0a0a" stroke-width="1.25"/>
<circle cx="356.19" cy="214.72" r="1.88" fill="#fff" stroke="#0a0a0a" stroke-width="1.25"/>
<circle cx="377.48" cy="195.31" r="1.88" fill="#fff" stroke="#0a0a0a" stroke-width="1.25"/>
<text x="296.80" y="206.25" font-size="20" text-anchor="start" font-family="Liberation Serif" font-weight="normal" >F</text>
<circle cx="345.9" cy="290.2" r="2.38" fill="#fff" stroke="#0a0a0a" stroke-width="1.25"/>
<circle cx="345.9" cy="303.1" r="3.2" fill="#0a0a0a"/>
<text x="351.25" y="292.90" font-size="10.2" text-anchor="start" font-family="Liberation Serif" font-weight="normal" >Control</text>
<text x="351.25" y="306.00" font-size="10.2" text-anchor="start" font-family="Liberation Serif" font-weight="normal" >fMLP</text>
<rect x="420.3" y="184.0" width="97.99999999999994" height="129.89999999999998" fill="none" stroke="#0a0a0a" stroke-width="1.1"/>
<line x1="420.00" y1="313.90" x2="420.00" y2="310.90" stroke="#0a0a0a" stroke-width="1.0"/>
<line x1="420.00" y1="184.00" x2="420.00" y2="187.00" stroke="#0a0a0a" stroke-width="1.0"/>
<line x1="448.17" y1="313.90" x2="448.17" y2="310.90" stroke="#0a0a0a" stroke-width="1.0"/>
<line x1="448.17" y1="184.00" x2="448.17" y2="187.00" stroke="#0a0a0a" stroke-width="1.0"/>
<line x1="476.33" y1="313.90" x2="476.33" y2="310.90" stroke="#0a0a0a" stroke-width="1.0"/>
<line x1="476.33" y1="184.00" x2="476.33" y2="187.00" stroke="#0a0a0a" stroke-width="1.0"/>
<line x1="504.50" y1="313.90" x2="504.50" y2="310.90" stroke="#0a0a0a" stroke-width="1.0"/>
<line x1="504.50" y1="184.00" x2="504.50" y2="187.00" stroke="#0a0a0a" stroke-width="1.0"/>
<line x1="420.30" y1="284.81" x2="423.30" y2="284.81" stroke="#0a0a0a" stroke-width="1.0"/>
<line x1="518.30" y1="284.81" x2="515.30" y2="284.81" stroke="#0a0a0a" stroke-width="1.0"/>
<line x1="420.30" y1="255.88" x2="423.30" y2="255.88" stroke="#0a0a0a" stroke-width="1.0"/>
<line x1="518.30" y1="255.88" x2="515.30" y2="255.88" stroke="#0a0a0a" stroke-width="1.0"/>
<line x1="420.30" y1="226.94" x2="423.30" y2="226.94" stroke="#0a0a0a" stroke-width="1.0"/>
<line x1="518.30" y1="226.94" x2="515.30" y2="226.94" stroke="#0a0a0a" stroke-width="1.0"/>
<line x1="420.30" y1="198.00" x2="423.30" y2="198.00" stroke="#0a0a0a" stroke-width="1.0"/>
<line x1="518.30" y1="198.00" x2="515.30" y2="198.00" stroke="#0a0a0a" stroke-width="1.0"/>
<text x="420.20" y="323.60" font-size="10.05" text-anchor="middle" font-family="Liberation Sans" font-weight="normal" >0</text>
<text x="449.30" y="323.60" font-size="10.05" text-anchor="middle" font-family="Liberation Sans" font-weight="normal" >20</text>
<text x="477.30" y="323.60" font-size="10.05" text-anchor="middle" font-family="Liberation Sans" font-weight="normal" >40</text>
<text x="505.60" y="323.60" font-size="10.05" text-anchor="middle" font-family="Liberation Sans" font-weight="normal" >60</text>
<text x="416.30" y="316.05" font-size="10.05" text-anchor="end" font-family="Liberation Sans" font-weight="normal" >0</text>
<text x="416.30" y="287.91" font-size="10.05" text-anchor="end" font-family="Liberation Sans" font-weight="normal" >500</text>
<text x="416.30" y="258.98" font-size="10.05" text-anchor="end" font-family="Liberation Sans" font-weight="normal" >1000</text>
<text x="416.30" y="230.04" font-size="10.05" text-anchor="end" font-family="Liberation Sans" font-weight="normal" >1500</text>
<text x="416.30" y="201.10" font-size="10.05" text-anchor="end" font-family="Liberation Sans" font-weight="normal" >2000</text>
<text x="465.40" y="333.30" font-size="10.3" text-anchor="middle" font-family="Liberation Serif" font-weight="normal" >Time (min)</text>
<path d="M420.00,313.75 C421.17,311.34 424.69,303.91 427.04,299.28 C429.39,294.65 431.74,290.21 434.08,285.97 C436.43,281.73 438.78,277.67 441.12,273.82 C443.47,269.96 444.65,267.74 448.17,262.82 C451.69,257.90 456.38,251.53 462.25,244.30 C468.12,237.07 476.33,226.41 483.38,219.41 C490.42,212.42 500.98,205.19 504.50,202.34" fill="none" stroke="#0a0a0a" stroke-width="1.15"/>
<path d="M420.00,313.75 C421.17,311.58 424.69,304.78 427.04,300.73 C429.39,296.68 431.74,292.91 434.08,289.44 C436.43,285.97 438.78,282.93 441.12,279.89 C443.47,276.85 444.65,275.41 448.17,271.21 C451.69,267.02 456.38,260.75 462.25,254.72 C468.12,248.69 476.33,240.88 483.38,235.04 C490.42,229.20 500.98,222.26 504.50,219.70" fill="none" stroke="#0a0a0a" stroke-width="1.15"/>
<line x1="504.50" y1="219.12" x2="504.50" y2="230.70" stroke="#0a0a0a" stroke-width="1.05"/>
<line x1="502.30" y1="219.12" x2="506.70" y2="219.12" stroke="#0a0a0a" stroke-width="1.05"/>
<line x1="502.30" y1="230.70" x2="506.70" y2="230.70" stroke="#0a0a0a" stroke-width="1.05"/>
<line x1="462.25" y1="248.52" x2="462.25" y2="255.47" stroke="#0a0a0a" stroke-width="1.05"/>
<line x1="460.05" y1="248.52" x2="464.45" y2="248.52" stroke="#0a0a0a" stroke-width="1.05"/>
<line x1="460.05" y1="255.47" x2="464.45" y2="255.47" stroke="#0a0a0a" stroke-width="1.05"/>
<line x1="483.38" y1="215.36" x2="483.38" y2="221.15" stroke="#0a0a0a" stroke-width="1.05"/>
<line x1="481.18" y1="215.36" x2="485.57" y2="215.36" stroke="#0a0a0a" stroke-width="1.05"/>
<line x1="481.18" y1="221.15" x2="485.57" y2="221.15" stroke="#0a0a0a" stroke-width="1.05"/>
<circle cx="427.04" cy="300.15" r="3.05" fill="#0a0a0a"/>
<circle cx="434.08" cy="286.84" r="3.05" fill="#0a0a0a"/>
<circle cx="441.12" cy="274.11" r="3.05" fill="#0a0a0a"/>
<circle cx="448.17" cy="262.94" r="3.05" fill="#0a0a0a"/>
<circle cx="462.25" cy="244.47" r="3.05" fill="#0a0a0a"/>
<circle cx="483.38" cy="218.26" r="3.05" fill="#0a0a0a"/>
<circle cx="504.50" cy="202.51" r="3.05" fill="#0a0a0a"/>
<circle cx="420.00" cy="313.75" r="1.98" fill="#fff" stroke="#0a0a0a" stroke-width="1.25"/>
<circle cx="427.04" cy="300.55" r="2.33" fill="#fff" stroke="#0a0a0a" stroke-width="1.25"/>
<circle cx="434.08" cy="290.89" r="2.33" fill="#fff" stroke="#0a0a0a" stroke-width="1.25"/>
<circle cx="441.12" cy="282.50" r="2.33" fill="#fff" stroke="#0a0a0a" stroke-width="1.25"/>
<circle cx="448.17" cy="273.01" r="2.33" fill="#fff" stroke="#0a0a0a" stroke-width="1.25"/>
<circle cx="462.25" cy="252.00" r="2.33" fill="#fff" stroke="#0a0a0a" stroke-width="1.25"/>
<circle cx="483.38" cy="235.50" r="2.33" fill="#fff" stroke="#0a0a0a" stroke-width="1.25"/>
<circle cx="504.50" cy="224.91" r="2.33" fill="#fff" stroke="#0a0a0a" stroke-width="1.25"/>
<text x="424.50" y="206.25" font-size="19.5" text-anchor="start" font-family="Liberation Serif" font-weight="normal" >G</text>
<circle cx="475.3" cy="289.8" r="2.38" fill="#fff" stroke="#0a0a0a" stroke-width="1.25"/>
<circle cx="475.3" cy="303.2" r="3.2" fill="#0a0a0a"/>
<text x="481.00" y="292.70" font-size="10.2" text-anchor="start" font-family="Liberation Serif" font-weight="normal" >Control</text>
<text x="481.00" y="306.00" font-size="10.2" text-anchor="start" font-family="Liberation Serif" font-weight="normal" >fMLP</text>
<rect x="32" y="367.5" width="98.4" height="130.7" fill="none" stroke="#0a0a0a" stroke-width="1.1"/>
<line x1="32.50" y1="498.20" x2="32.50" y2="495.20" stroke="#0a0a0a" stroke-width="1.0"/>
<line x1="32.50" y1="367.50" x2="32.50" y2="370.50" stroke="#0a0a0a" stroke-width="1.0"/>
<line x1="54.25" y1="498.20" x2="54.25" y2="495.20" stroke="#0a0a0a" stroke-width="1.0"/>
<line x1="54.25" y1="367.50" x2="54.25" y2="370.50" stroke="#0a0a0a" stroke-width="1.0"/>
<line x1="76.00" y1="498.20" x2="76.00" y2="495.20" stroke="#0a0a0a" stroke-width="1.0"/>
<line x1="76.00" y1="367.50" x2="76.00" y2="370.50" stroke="#0a0a0a" stroke-width="1.0"/>
<line x1="97.75" y1="498.20" x2="97.75" y2="495.20" stroke="#0a0a0a" stroke-width="1.0"/>
<line x1="97.75" y1="367.50" x2="97.75" y2="370.50" stroke="#0a0a0a" stroke-width="1.0"/>
<line x1="119.50" y1="498.20" x2="119.50" y2="495.20" stroke="#0a0a0a" stroke-width="1.0"/>
<line x1="119.50" y1="367.50" x2="119.50" y2="370.50" stroke="#0a0a0a" stroke-width="1.0"/>
<line x1="32.00" y1="460.92" x2="35.00" y2="460.92" stroke="#0a0a0a" stroke-width="1.0"/>
<line x1="130.40" y1="460.92" x2="127.40" y2="460.92" stroke="#0a0a0a" stroke-width="1.0"/>
<line x1="32.00" y1="423.58" x2="35.00" y2="423.58" stroke="#0a0a0a" stroke-width="1.0"/>
<line x1="130.40" y1="423.58" x2="127.40" y2="423.58" stroke="#0a0a0a" stroke-width="1.0"/>
<line x1="32.00" y1="386.25" x2="35.00" y2="386.25" stroke="#0a0a0a" stroke-width="1.0"/>
<line x1="130.40" y1="386.25" x2="127.40" y2="386.25" stroke="#0a0a0a" stroke-width="1.0"/>
<text x="33.90" y="508.30" font-size="10" text-anchor="middle" font-family="Liberation Serif" font-weight="normal" >0</text>
<text x="53.70" y="508.30" font-size="10" text-anchor="middle" font-family="Liberation Serif" font-weight="normal" >30</text>
<text x="75.80" y="508.30" font-size="10" text-anchor="middle" font-family="Liberation Serif" font-weight="normal" >60</text>
<text x="97.30" y="508.30" font-size="10" text-anchor="middle" font-family="Liberation Serif" font-weight="normal" >90</text>
<text x="119.10" y="508.30" font-size="10" text-anchor="middle" font-family="Liberation Serif" font-weight="normal" >120</text>
<text x="28.00" y="499.25" font-size="10" text-anchor="end" font-family="Liberation Serif" font-weight="normal" >0</text>
<text x="28.00" y="464.22" font-size="10" text-anchor="end" font-family="Liberation Serif" font-weight="normal" >4</text>
<text x="28.00" y="426.88" font-size="10" text-anchor="end" font-family="Liberation Serif" font-weight="normal" >8</text>
<text x="28.00" y="389.55" font-size="10" text-anchor="end" font-family="Liberation Serif" font-weight="normal" >12</text>
<text x="83.70" y="516.70" font-size="10.3" text-anchor="middle" font-family="Liberation Serif" font-weight="normal" >Time (sec)</text>
<text transform="translate(10.60,432.90) rotate(-90)" font-size="10.5" text-anchor="middle" font-family="Liberation Serif">DOG uptake (pmol/10<tspan font-size="9.3" dy="-2.8">6</tspan><tspan dy="2.8"> cells)</tspan></text>
<path d="M32.50,498.25 C34.31,495.14 39.75,485.65 43.38,479.58 C47.00,473.52 50.62,467.61 54.25,461.85 C57.88,456.09 61.50,450.11 65.12,445.05 C68.75,439.99 70.56,436.81 76.00,431.52 C81.44,426.23 90.50,418.53 97.75,413.32 C105.00,408.11 115.88,402.43 119.50,400.25" fill="none" stroke="#0a0a0a" stroke-width="1.1"/>
<line x1="39.02" y1="488.92" x2="39.02" y2="492.65" stroke="#0a0a0a" stroke-width="1.05"/>
<line x1="37.23" y1="488.92" x2="40.82" y2="488.92" stroke="#0a0a0a" stroke-width="1.05"/>
<line x1="37.23" y1="492.65" x2="40.82" y2="492.65" stroke="#0a0a0a" stroke-width="1.05"/>
<line x1="46.27" y1="473.98" x2="46.27" y2="479.58" stroke="#0a0a0a" stroke-width="1.05"/>
<line x1="44.48" y1="473.98" x2="48.07" y2="473.98" stroke="#0a0a0a" stroke-width="1.05"/>
<line x1="44.48" y1="479.58" x2="48.07" y2="479.58" stroke="#0a0a0a" stroke-width="1.05"/>
<line x1="53.52" y1="456.25" x2="53.52" y2="461.85" stroke="#0a0a0a" stroke-width="1.05"/>
<line x1="51.73" y1="456.25" x2="55.32" y2="456.25" stroke="#0a0a0a" stroke-width="1.05"/>
<line x1="51.73" y1="461.85" x2="55.32" y2="461.85" stroke="#0a0a0a" stroke-width="1.05"/>
<line x1="60.77" y1="444.58" x2="60.77" y2="451.12" stroke="#0a0a0a" stroke-width="1.05"/>
<line x1="58.98" y1="444.58" x2="62.57" y2="444.58" stroke="#0a0a0a" stroke-width="1.05"/>
<line x1="58.98" y1="451.12" x2="62.57" y2="451.12" stroke="#0a0a0a" stroke-width="1.05"/>
<line x1="76.00" y1="422.84" x2="76.00" y2="430.30" stroke="#0a0a0a" stroke-width="1.05"/>
<line x1="74.20" y1="422.84" x2="77.80" y2="422.84" stroke="#0a0a0a" stroke-width="1.05"/>
<line x1="74.20" y1="430.30" x2="77.80" y2="430.30" stroke="#0a0a0a" stroke-width="1.05"/>
<line x1="97.75" y1="408.18" x2="97.75" y2="414.72" stroke="#0a0a0a" stroke-width="1.05"/>
<line x1="95.95" y1="408.18" x2="99.55" y2="408.18" stroke="#0a0a0a" stroke-width="1.05"/>
<line x1="95.95" y1="414.72" x2="99.55" y2="414.72" stroke="#0a0a0a" stroke-width="1.05"/>
<line x1="118.77" y1="393.44" x2="118.77" y2="403.70" stroke="#0a0a0a" stroke-width="1.05"/>
<line x1="116.97" y1="393.44" x2="120.57" y2="393.44" stroke="#0a0a0a" stroke-width="1.05"/>
<line x1="116.97" y1="403.70" x2="120.57" y2="403.70" stroke="#0a0a0a" stroke-width="1.05"/>
<line x1="39.02" y1="486.12" x2="39.02" y2="491.72" stroke="#0a0a0a" stroke-width="1.05"/>
<line x1="37.23" y1="486.12" x2="40.82" y2="486.12" stroke="#0a0a0a" stroke-width="1.05"/>
<line x1="37.23" y1="491.72" x2="40.82" y2="491.72" stroke="#0a0a0a" stroke-width="1.05"/>
<line x1="46.27" y1="477.25" x2="46.27" y2="482.85" stroke="#0a0a0a" stroke-width="1.05"/>
<line x1="44.48" y1="477.25" x2="48.07" y2="477.25" stroke="#0a0a0a" stroke-width="1.05"/>
<line x1="44.48" y1="482.85" x2="48.07" y2="482.85" stroke="#0a0a0a" stroke-width="1.05"/>
<line x1="53.52" y1="462.50" x2="53.52" y2="469.97" stroke="#0a0a0a" stroke-width="1.05"/>
<line x1="51.73" y1="462.50" x2="55.32" y2="462.50" stroke="#0a0a0a" stroke-width="1.05"/>
<line x1="51.73" y1="469.97" x2="55.32" y2="469.97" stroke="#0a0a0a" stroke-width="1.05"/>
<line x1="60.77" y1="446.92" x2="60.77" y2="452.52" stroke="#0a0a0a" stroke-width="1.05"/>
<line x1="58.98" y1="446.92" x2="62.57" y2="446.92" stroke="#0a0a0a" stroke-width="1.05"/>
<line x1="58.98" y1="452.52" x2="62.57" y2="452.52" stroke="#0a0a0a" stroke-width="1.05"/>
<line x1="76.00" y1="431.52" x2="76.00" y2="438.05" stroke="#0a0a0a" stroke-width="1.05"/>
<line x1="74.20" y1="431.52" x2="77.80" y2="431.52" stroke="#0a0a0a" stroke-width="1.05"/>
<line x1="74.20" y1="438.05" x2="77.80" y2="438.05" stroke="#0a0a0a" stroke-width="1.05"/>
<line x1="97.75" y1="410.98" x2="97.75" y2="422.18" stroke="#0a0a0a" stroke-width="1.05"/>
<line x1="95.95" y1="410.98" x2="99.55" y2="410.98" stroke="#0a0a0a" stroke-width="1.05"/>
<line x1="95.95" y1="422.18" x2="99.55" y2="422.18" stroke="#0a0a0a" stroke-width="1.05"/>
<line x1="118.77" y1="402.12" x2="118.77" y2="409.58" stroke="#0a0a0a" stroke-width="1.05"/>
<line x1="116.97" y1="402.12" x2="120.57" y2="402.12" stroke="#0a0a0a" stroke-width="1.05"/>
<line x1="116.97" y1="409.58" x2="120.57" y2="409.58" stroke="#0a0a0a" stroke-width="1.05"/>
<circle cx="39.02" cy="490.78" r="2.6" fill="#0a0a0a"/>
<circle cx="46.27" cy="476.78" r="2.6" fill="#0a0a0a"/>
<circle cx="53.52" cy="459.05" r="2.6" fill="#0a0a0a"/>
<circle cx="60.77" cy="447.85" r="2.6" fill="#0a0a0a"/>
<circle cx="76.00" cy="426.57" r="2.6" fill="#0a0a0a"/>
<circle cx="97.75" cy="411.45" r="2.6" fill="#0a0a0a"/>
<circle cx="118.77" cy="398.57" r="2.6" fill="#0a0a0a"/>
<circle cx="32.50" cy="498.25" r="1.98" fill="#fff" stroke="#0a0a0a" stroke-width="1.25"/>
<circle cx="39.02" cy="488.92" r="1.98" fill="#fff" stroke="#0a0a0a" stroke-width="1.25"/>
<circle cx="46.27" cy="480.05" r="1.98" fill="#fff" stroke="#0a0a0a" stroke-width="1.25"/>
<circle cx="53.52" cy="466.24" r="1.98" fill="#fff" stroke="#0a0a0a" stroke-width="1.25"/>
<circle cx="60.77" cy="449.72" r="1.98" fill="#fff" stroke="#0a0a0a" stroke-width="1.25"/>
<circle cx="76.00" cy="434.78" r="1.98" fill="#fff" stroke="#0a0a0a" stroke-width="1.25"/>
<circle cx="97.75" cy="416.58" r="1.98" fill="#fff" stroke="#0a0a0a" stroke-width="1.25"/>
<circle cx="118.77" cy="405.85" r="1.98" fill="#fff" stroke="#0a0a0a" stroke-width="1.25"/>
<text x="38.20" y="391.70" font-size="19.7" text-anchor="start" font-family="Liberation Serif" font-weight="normal" >H</text>
<circle cx="87" cy="474.3" r="2.38" fill="#fff" stroke="#0a0a0a" stroke-width="1.25"/>
<circle cx="87" cy="487.3" r="3.2" fill="#0a0a0a"/>
<text x="92.50" y="476.90" font-size="10.2" text-anchor="start" font-family="Liberation Serif" font-weight="normal" >Control</text>
<text x="92.50" y="490.00" font-size="10.2" text-anchor="start" font-family="Liberation Serif" font-weight="normal" >fMLP</text>
<rect x="181.0" y="367.4" width="97.5" height="130.40000000000003" fill="none" stroke="#0a0a0a" stroke-width="1.1"/>
<line x1="181.00" y1="497.80" x2="181.00" y2="494.80" stroke="#0a0a0a" stroke-width="1.0"/>
<line x1="181.00" y1="367.40" x2="181.00" y2="370.40" stroke="#0a0a0a" stroke-width="1.0"/>
<line x1="208.80" y1="497.80" x2="208.80" y2="494.80" stroke="#0a0a0a" stroke-width="1.0"/>
<line x1="208.80" y1="367.40" x2="208.80" y2="370.40" stroke="#0a0a0a" stroke-width="1.0"/>
<line x1="236.60" y1="497.80" x2="236.60" y2="494.80" stroke="#0a0a0a" stroke-width="1.0"/>
<line x1="236.60" y1="367.40" x2="236.60" y2="370.40" stroke="#0a0a0a" stroke-width="1.0"/>
<line x1="264.40" y1="497.80" x2="264.40" y2="494.80" stroke="#0a0a0a" stroke-width="1.0"/>
<line x1="264.40" y1="367.40" x2="264.40" y2="370.40" stroke="#0a0a0a" stroke-width="1.0"/>
<line x1="181.00" y1="468.81" x2="184.00" y2="468.81" stroke="#0a0a0a" stroke-width="1.0"/>
<line x1="278.50" y1="468.81" x2="275.50" y2="468.81" stroke="#0a0a0a" stroke-width="1.0"/>
<line x1="181.00" y1="439.88" x2="184.00" y2="439.88" stroke="#0a0a0a" stroke-width="1.0"/>
<line x1="278.50" y1="439.88" x2="275.50" y2="439.88" stroke="#0a0a0a" stroke-width="1.0"/>
<line x1="181.00" y1="410.94" x2="184.00" y2="410.94" stroke="#0a0a0a" stroke-width="1.0"/>
<line x1="278.50" y1="410.94" x2="275.50" y2="410.94" stroke="#0a0a0a" stroke-width="1.0"/>
<line x1="181.00" y1="382.00" x2="184.00" y2="382.00" stroke="#0a0a0a" stroke-width="1.0"/>
<line x1="278.50" y1="382.00" x2="275.50" y2="382.00" stroke="#0a0a0a" stroke-width="1.0"/>
<text x="181.60" y="507.70" font-size="10.05" text-anchor="middle" font-family="Liberation Sans" font-weight="normal" >0</text>
<text x="209.60" y="507.70" font-size="10.05" text-anchor="middle" font-family="Liberation Sans" font-weight="normal" >20</text>
<text x="237.70" y="507.70" font-size="10.05" text-anchor="middle" font-family="Liberation Sans" font-weight="normal" >40</text>
<text x="265.60" y="507.70" font-size="10.05" text-anchor="middle" font-family="Liberation Sans" font-weight="normal" >60</text>
<text x="177.40" y="498.55" font-size="10.05" text-anchor="end" font-family="Liberation Sans" font-weight="normal" >0</text>
<text x="177.40" y="471.91" font-size="10.05" text-anchor="end" font-family="Liberation Sans" font-weight="normal" >1</text>
<text x="177.40" y="442.98" font-size="10.05" text-anchor="end" font-family="Liberation Sans" font-weight="normal" >2</text>
<text x="177.40" y="414.04" font-size="10.05" text-anchor="end" font-family="Liberation Sans" font-weight="normal" >3</text>
<text x="177.40" y="385.10" font-size="10.05" text-anchor="end" font-family="Liberation Sans" font-weight="normal" >4</text>
<text x="225.70" y="517.20" font-size="10.3" text-anchor="middle" font-family="Liberation Serif" font-weight="normal" >Time (min)</text>
<text transform="translate(166.50,432.60) rotate(-90)" font-size="10.4" text-anchor="middle" font-family="Liberation Serif">DOG uptake (nmol/10<tspan font-size="9.3" dy="-2.8">6</tspan><tspan dy="2.8"> cells)</tspan></text>
<path d="M181.00,497.75 C182.16,495.24 185.63,487.38 187.95,482.70 C190.27,478.02 192.58,473.78 194.90,469.68 C197.22,465.58 199.53,461.72 201.85,458.11 C204.17,454.49 205.32,452.56 208.80,447.98 C212.27,443.40 216.91,436.55 222.70,430.62 C228.49,424.68 236.60,418.41 243.55,412.38 C250.50,406.36 260.92,397.43 264.40,394.44" fill="none" stroke="#0a0a0a" stroke-width="1.15"/>
<path d="M181.00,497.75 C182.16,495.68 185.63,489.12 187.95,485.31 C190.27,481.50 192.58,478.12 194.90,474.89 C197.22,471.66 199.53,468.76 201.85,465.92 C204.17,463.07 205.32,461.43 208.80,457.82 C212.27,454.20 216.91,449.38 222.70,444.22 C228.49,439.06 236.60,432.50 243.55,426.85 C250.50,421.21 260.92,413.11 264.40,410.36" fill="none" stroke="#0a0a0a" stroke-width="1.15"/>
<line x1="222.70" y1="418.46" x2="222.70" y2="435.82" stroke="#0a0a0a" stroke-width="1.05"/>
<line x1="220.50" y1="418.46" x2="224.90" y2="418.46" stroke="#0a0a0a" stroke-width="1.05"/>
<line x1="220.50" y1="435.82" x2="224.90" y2="435.82" stroke="#0a0a0a" stroke-width="1.05"/>
<line x1="243.27" y1="408.04" x2="243.27" y2="416.73" stroke="#0a0a0a" stroke-width="1.05"/>
<line x1="241.07" y1="408.04" x2="245.47" y2="408.04" stroke="#0a0a0a" stroke-width="1.05"/>
<line x1="241.07" y1="416.73" x2="245.47" y2="416.73" stroke="#0a0a0a" stroke-width="1.05"/>
<line x1="264.12" y1="387.79" x2="264.12" y2="400.52" stroke="#0a0a0a" stroke-width="1.05"/>
<line x1="261.92" y1="387.79" x2="266.32" y2="387.79" stroke="#0a0a0a" stroke-width="1.05"/>
<line x1="261.92" y1="400.52" x2="266.32" y2="400.52" stroke="#0a0a0a" stroke-width="1.05"/>
<line x1="222.70" y1="439.88" x2="222.70" y2="447.40" stroke="#0a0a0a" stroke-width="1.05"/>
<line x1="220.50" y1="439.88" x2="224.90" y2="439.88" stroke="#0a0a0a" stroke-width="1.05"/>
<line x1="220.50" y1="447.40" x2="224.90" y2="447.40" stroke="#0a0a0a" stroke-width="1.05"/>
<line x1="264.12" y1="402.26" x2="264.12" y2="413.83" stroke="#0a0a0a" stroke-width="1.05"/>
<line x1="261.92" y1="402.26" x2="266.32" y2="402.26" stroke="#0a0a0a" stroke-width="1.05"/>
<line x1="261.92" y1="413.83" x2="266.32" y2="413.83" stroke="#0a0a0a" stroke-width="1.05"/>
<circle cx="188.51" cy="478.07" r="3.05" fill="#0a0a0a"/>
<circle cx="195.32" cy="467.37" r="3.05" fill="#0a0a0a"/>
<circle cx="202.13" cy="455.79" r="3.05" fill="#0a0a0a"/>
<circle cx="209.08" cy="447.40" r="3.05" fill="#0a0a0a"/>
<circle cx="222.70" cy="427.14" r="3.05" fill="#0a0a0a"/>
<circle cx="243.27" cy="412.38" r="3.05" fill="#0a0a0a"/>
<circle cx="264.12" cy="394.15" r="3.05" fill="#0a0a0a"/>
<circle cx="181.00" cy="497.75" r="1.98" fill="#fff" stroke="#0a0a0a" stroke-width="1.25"/>
<circle cx="188.51" cy="482.12" r="2.33" fill="#fff" stroke="#0a0a0a" stroke-width="1.25"/>
<circle cx="195.32" cy="478.36" r="2.33" fill="#fff" stroke="#0a0a0a" stroke-width="1.25"/>
<circle cx="202.13" cy="466.21" r="2.33" fill="#fff" stroke="#0a0a0a" stroke-width="1.25"/>
<circle cx="209.08" cy="458.11" r="2.33" fill="#fff" stroke="#0a0a0a" stroke-width="1.25"/>
<circle cx="222.70" cy="443.64" r="2.33" fill="#fff" stroke="#0a0a0a" stroke-width="1.25"/>
<circle cx="243.27" cy="427.14" r="2.33" fill="#fff" stroke="#0a0a0a" stroke-width="1.25"/>
<circle cx="264.12" cy="408.04" r="2.33" fill="#fff" stroke="#0a0a0a" stroke-width="1.25"/>
<text x="184.90" y="391.30" font-size="20" text-anchor="start" font-family="Liberation Serif" font-weight="normal" >I</text>
<circle cx="235" cy="474" r="2.38" fill="#fff" stroke="#0a0a0a" stroke-width="1.25"/>
<circle cx="235" cy="487.3" r="3.2" fill="#0a0a0a"/>
<text x="240.60" y="476.60" font-size="10.2" text-anchor="start" font-family="Liberation Serif" font-weight="normal" >Control</text>
<text x="240.60" y="489.80" font-size="10.2" text-anchor="start" font-family="Liberation Serif" font-weight="normal" >fMLP</text>
<rect x="329.5" y="367.4" width="97.60000000000002" height="130.3" fill="none" stroke="#0a0a0a" stroke-width="1.1"/>
<line x1="329.50" y1="497.70" x2="329.50" y2="494.70" stroke="#0a0a0a" stroke-width="1.0"/>
<line x1="329.50" y1="367.40" x2="329.50" y2="370.40" stroke="#0a0a0a" stroke-width="1.0"/>
<line x1="351.19" y1="497.70" x2="351.19" y2="494.70" stroke="#0a0a0a" stroke-width="1.0"/>
<line x1="351.19" y1="367.40" x2="351.19" y2="370.40" stroke="#0a0a0a" stroke-width="1.0"/>
<line x1="372.88" y1="497.70" x2="372.88" y2="494.70" stroke="#0a0a0a" stroke-width="1.0"/>
<line x1="372.88" y1="367.40" x2="372.88" y2="370.40" stroke="#0a0a0a" stroke-width="1.0"/>
<line x1="394.56" y1="497.70" x2="394.56" y2="494.70" stroke="#0a0a0a" stroke-width="1.0"/>
<line x1="394.56" y1="367.40" x2="394.56" y2="370.40" stroke="#0a0a0a" stroke-width="1.0"/>
<line x1="416.25" y1="497.70" x2="416.25" y2="494.70" stroke="#0a0a0a" stroke-width="1.0"/>
<line x1="416.25" y1="367.40" x2="416.25" y2="370.40" stroke="#0a0a0a" stroke-width="1.0"/>
<line x1="329.50" y1="460.58" x2="332.50" y2="460.58" stroke="#0a0a0a" stroke-width="1.0"/>
<line x1="427.10" y1="460.58" x2="424.10" y2="460.58" stroke="#0a0a0a" stroke-width="1.0"/>
<line x1="329.50" y1="423.17" x2="332.50" y2="423.17" stroke="#0a0a0a" stroke-width="1.0"/>
<line x1="427.10" y1="423.17" x2="424.10" y2="423.17" stroke="#0a0a0a" stroke-width="1.0"/>
<line x1="329.50" y1="385.75" x2="332.50" y2="385.75" stroke="#0a0a0a" stroke-width="1.0"/>
<line x1="427.10" y1="385.75" x2="424.10" y2="385.75" stroke="#0a0a0a" stroke-width="1.0"/>
<text x="330.60" y="507.90" font-size="10" text-anchor="middle" font-family="Liberation Serif" font-weight="normal" >0</text>
<text x="351.30" y="507.90" font-size="10" text-anchor="middle" font-family="Liberation Serif" font-weight="normal" >30</text>
<text x="372.90" y="507.90" font-size="10" text-anchor="middle" font-family="Liberation Serif" font-weight="normal" >60</text>
<text x="394.50" y="507.90" font-size="10" text-anchor="middle" font-family="Liberation Serif" font-weight="normal" >90</text>
<text x="415.80" y="507.90" font-size="10" text-anchor="middle" font-family="Liberation Serif" font-weight="normal" >120</text>
<text x="325.30" y="498.20" font-size="10" text-anchor="end" font-family="Liberation Serif" font-weight="normal" >0</text>
<text x="325.30" y="463.88" font-size="10" text-anchor="end" font-family="Liberation Serif" font-weight="normal" >20</text>
<text x="325.30" y="426.47" font-size="10" text-anchor="end" font-family="Liberation Serif" font-weight="normal" >40</text>
<text x="325.30" y="389.05" font-size="10" text-anchor="end" font-family="Liberation Serif" font-weight="normal" >60</text>
<text x="379.80" y="517.30" font-size="10.3" text-anchor="middle" font-family="Liberation Serif" font-weight="normal" >Time (sec)</text>
<text transform="translate(311.00,432.60) rotate(-90)" font-size="10.4" text-anchor="middle" font-family="Liberation Serif">OMG uptake (pmol/10<tspan font-size="9.3" dy="-2.8">6</tspan><tspan dy="2.8"> cells)</tspan></text>
<path d="M329.50,498.00 C331.31,494.57 336.73,483.81 340.34,477.42 C343.96,471.03 347.57,465.20 351.19,459.65 C354.80,454.10 358.42,448.95 362.03,444.12 C365.65,439.29 369.26,434.83 372.88,430.65 C376.49,426.47 380.10,422.48 383.72,419.05 C387.33,415.62 390.95,412.69 394.56,410.07 C398.18,407.45 401.79,405.36 405.41,403.34 C409.02,401.31 414.44,398.81 416.25,397.91" fill="none" stroke="#0a0a0a" stroke-width="1.2"/>
<path d="M329.50,498.00 C331.31,494.88 336.73,485.22 340.34,479.29 C343.96,473.37 347.57,467.69 351.19,462.45 C354.80,457.22 358.42,452.38 362.03,447.86 C365.65,443.34 369.26,439.13 372.88,435.33 C376.49,431.52 380.10,428.16 383.72,425.04 C387.33,421.92 390.95,418.89 394.56,416.62 C398.18,414.34 401.79,412.94 405.41,411.38 C409.02,409.82 414.44,407.95 416.25,407.26" fill="none" stroke="#0a0a0a" stroke-width="1.2"/>
<line x1="336.73" y1="485.09" x2="336.73" y2="488.83" stroke="#0a0a0a" stroke-width="1.05"/>
<line x1="334.93" y1="485.09" x2="338.53" y2="485.09" stroke="#0a0a0a" stroke-width="1.05"/>
<line x1="334.93" y1="488.83" x2="338.53" y2="488.83" stroke="#0a0a0a" stroke-width="1.05"/>
<line x1="343.74" y1="469.56" x2="343.74" y2="474.05" stroke="#0a0a0a" stroke-width="1.05"/>
<line x1="341.94" y1="469.56" x2="345.54" y2="469.56" stroke="#0a0a0a" stroke-width="1.05"/>
<line x1="341.94" y1="474.05" x2="345.54" y2="474.05" stroke="#0a0a0a" stroke-width="1.05"/>
<line x1="351.19" y1="455.91" x2="351.19" y2="461.52" stroke="#0a0a0a" stroke-width="1.05"/>
<line x1="349.39" y1="455.91" x2="352.99" y2="455.91" stroke="#0a0a0a" stroke-width="1.05"/>
<line x1="349.39" y1="461.52" x2="352.99" y2="461.52" stroke="#0a0a0a" stroke-width="1.05"/>
<line x1="358.06" y1="444.12" x2="358.06" y2="449.73" stroke="#0a0a0a" stroke-width="1.05"/>
<line x1="356.26" y1="444.12" x2="359.86" y2="444.12" stroke="#0a0a0a" stroke-width="1.05"/>
<line x1="356.26" y1="449.73" x2="359.86" y2="449.73" stroke="#0a0a0a" stroke-width="1.05"/>
<line x1="365.65" y1="440.19" x2="365.65" y2="444.68" stroke="#0a0a0a" stroke-width="1.05"/>
<line x1="363.85" y1="440.19" x2="367.45" y2="440.19" stroke="#0a0a0a" stroke-width="1.05"/>
<line x1="363.85" y1="444.68" x2="367.45" y2="444.68" stroke="#0a0a0a" stroke-width="1.05"/>
<line x1="372.51" y1="422.79" x2="372.51" y2="428.40" stroke="#0a0a0a" stroke-width="1.05"/>
<line x1="370.71" y1="422.79" x2="374.31" y2="422.79" stroke="#0a0a0a" stroke-width="1.05"/>
<line x1="370.71" y1="428.40" x2="374.31" y2="428.40" stroke="#0a0a0a" stroke-width="1.05"/>
<line x1="394.20" y1="403.15" x2="394.20" y2="414.37" stroke="#0a0a0a" stroke-width="1.05"/>
<line x1="392.40" y1="403.15" x2="396.00" y2="403.15" stroke="#0a0a0a" stroke-width="1.05"/>
<line x1="392.40" y1="414.37" x2="396.00" y2="414.37" stroke="#0a0a0a" stroke-width="1.05"/>
<line x1="415.74" y1="393.42" x2="415.74" y2="402.77" stroke="#0a0a0a" stroke-width="1.05"/>
<line x1="413.94" y1="393.42" x2="417.54" y2="393.42" stroke="#0a0a0a" stroke-width="1.05"/>
<line x1="413.94" y1="402.77" x2="417.54" y2="402.77" stroke="#0a0a0a" stroke-width="1.05"/>
<line x1="336.73" y1="482.66" x2="336.73" y2="486.40" stroke="#0a0a0a" stroke-width="1.05"/>
<line x1="334.93" y1="482.66" x2="338.53" y2="482.66" stroke="#0a0a0a" stroke-width="1.05"/>
<line x1="334.93" y1="486.40" x2="338.53" y2="486.40" stroke="#0a0a0a" stroke-width="1.05"/>
<line x1="343.74" y1="473.68" x2="343.74" y2="477.42" stroke="#0a0a0a" stroke-width="1.05"/>
<line x1="341.94" y1="473.68" x2="345.54" y2="473.68" stroke="#0a0a0a" stroke-width="1.05"/>
<line x1="341.94" y1="477.42" x2="345.54" y2="477.42" stroke="#0a0a0a" stroke-width="1.05"/>
<line x1="351.19" y1="462.08" x2="351.19" y2="470.31" stroke="#0a0a0a" stroke-width="1.05"/>
<line x1="349.39" y1="462.08" x2="352.99" y2="462.08" stroke="#0a0a0a" stroke-width="1.05"/>
<line x1="349.39" y1="470.31" x2="352.99" y2="470.31" stroke="#0a0a0a" stroke-width="1.05"/>
<line x1="358.06" y1="447.67" x2="358.06" y2="452.16" stroke="#0a0a0a" stroke-width="1.05"/>
<line x1="356.26" y1="447.67" x2="359.86" y2="447.67" stroke="#0a0a0a" stroke-width="1.05"/>
<line x1="356.26" y1="452.16" x2="359.86" y2="452.16" stroke="#0a0a0a" stroke-width="1.05"/>
<line x1="365.65" y1="444.87" x2="365.65" y2="448.61" stroke="#0a0a0a" stroke-width="1.05"/>
<line x1="363.85" y1="444.87" x2="367.45" y2="444.87" stroke="#0a0a0a" stroke-width="1.05"/>
<line x1="363.85" y1="448.61" x2="367.45" y2="448.61" stroke="#0a0a0a" stroke-width="1.05"/>
<line x1="372.51" y1="434.39" x2="372.51" y2="438.13" stroke="#0a0a0a" stroke-width="1.05"/>
<line x1="370.71" y1="434.39" x2="374.31" y2="434.39" stroke="#0a0a0a" stroke-width="1.05"/>
<line x1="370.71" y1="438.13" x2="374.31" y2="438.13" stroke="#0a0a0a" stroke-width="1.05"/>
<line x1="394.20" y1="409.70" x2="394.20" y2="422.79" stroke="#0a0a0a" stroke-width="1.05"/>
<line x1="392.40" y1="409.70" x2="396.00" y2="409.70" stroke="#0a0a0a" stroke-width="1.05"/>
<line x1="392.40" y1="422.79" x2="396.00" y2="422.79" stroke="#0a0a0a" stroke-width="1.05"/>
<line x1="415.74" y1="403.34" x2="415.74" y2="410.82" stroke="#0a0a0a" stroke-width="1.05"/>
<line x1="413.94" y1="403.34" x2="417.54" y2="403.34" stroke="#0a0a0a" stroke-width="1.05"/>
<line x1="413.94" y1="410.82" x2="417.54" y2="410.82" stroke="#0a0a0a" stroke-width="1.05"/>
<circle cx="336.73" cy="486.96" r="2.6" fill="#0a0a0a"/>
<circle cx="343.74" cy="471.81" r="2.6" fill="#0a0a0a"/>
<circle cx="351.19" cy="458.71" r="2.6" fill="#0a0a0a"/>
<circle cx="358.06" cy="446.93" r="2.6" fill="#0a0a0a"/>
<circle cx="365.65" cy="442.44" r="2.6" fill="#0a0a0a"/>
<circle cx="372.51" cy="425.60" r="2.6" fill="#0a0a0a"/>
<circle cx="394.20" cy="408.76" r="2.6" fill="#0a0a0a"/>
<circle cx="415.74" cy="398.10" r="2.6" fill="#0a0a0a"/>
<circle cx="329.50" cy="498.00" r="1.98" fill="#fff" stroke="#0a0a0a" stroke-width="1.25"/>
<circle cx="336.73" cy="484.53" r="1.98" fill="#fff" stroke="#0a0a0a" stroke-width="1.25"/>
<circle cx="343.74" cy="475.55" r="1.98" fill="#fff" stroke="#0a0a0a" stroke-width="1.25"/>
<circle cx="351.19" cy="466.20" r="1.98" fill="#fff" stroke="#0a0a0a" stroke-width="1.25"/>
<circle cx="358.06" cy="449.92" r="1.98" fill="#fff" stroke="#0a0a0a" stroke-width="1.25"/>
<circle cx="365.65" cy="446.74" r="1.98" fill="#fff" stroke="#0a0a0a" stroke-width="1.25"/>
<circle cx="372.51" cy="436.26" r="1.98" fill="#fff" stroke="#0a0a0a" stroke-width="1.25"/>
<circle cx="394.20" cy="416.24" r="1.98" fill="#fff" stroke="#0a0a0a" stroke-width="1.25"/>
<circle cx="415.74" cy="407.08" r="1.98" fill="#fff" stroke="#0a0a0a" stroke-width="1.25"/>
<text x="334.60" y="391.30" font-size="20.5" text-anchor="start" font-family="Liberation Serif" font-weight="normal" style="stroke-width:0.8px">J</text>
<circle cx="384.4" cy="474" r="2.38" fill="#fff" stroke="#0a0a0a" stroke-width="1.25"/>
<circle cx="384.4" cy="487.3" r="3.2" fill="#0a0a0a"/>
<text x="390.00" y="476.70" font-size="10.2" text-anchor="start" font-family="Liberation Serif" font-weight="normal" >Control</text>
<text x="390.00" y="489.80" font-size="10.2" text-anchor="start" font-family="Liberation Serif" font-weight="normal" >fMLP</text>
</g>
</svg>
</body></html>
